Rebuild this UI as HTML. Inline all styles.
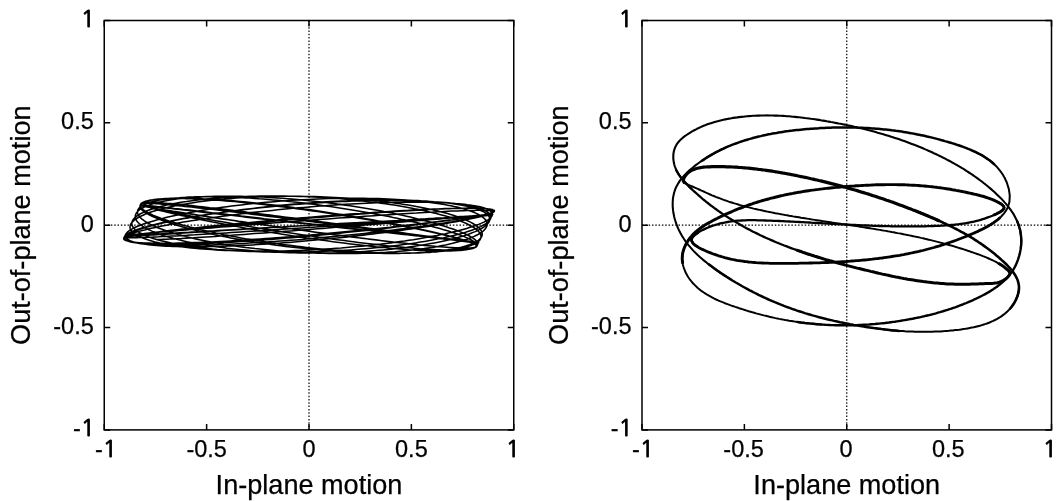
<!DOCTYPE html>
<html><head><meta charset="utf-8"><style>
html,body{margin:0;padding:0;background:#fff;width:1059px;height:501px;overflow:hidden}
svg{display:block;font-family:"Liberation Sans",Arial,Helvetica,sans-serif;fill:#000}
text{stroke:#000;stroke-width:0.25px}
</style></head><body>
<svg width="1059" height="501" viewBox="0 0 1059 501"><rect width="100%" height="100%" fill="#fff"/><g><line x1="104.25" y1="225.2" x2="513.75" y2="225.2" stroke="#000" stroke-width="1.2" stroke-dasharray="1.5 1.82"/><line x1="309.0" y1="20.5" x2="309.0" y2="429.9" stroke="#000" stroke-width="1.2" stroke-dasharray="1.5 1.82"/><path d="M104.25 429.9v-6M104.25 20.5v6M104.25 429.9h6M513.75 429.9h-6" stroke="#000" stroke-width="1.5" fill="none"/><path d="M206.625 429.9v-6M206.625 20.5v6M104.25 327.54999999999995h6M513.75 327.54999999999995h-6" stroke="#000" stroke-width="1.5" fill="none"/><path d="M309.0 429.9v-6M309.0 20.5v6M104.25 225.2h6M513.75 225.2h-6" stroke="#000" stroke-width="1.5" fill="none"/><path d="M411.375 429.9v-6M411.375 20.5v6M104.25 122.85h6M513.75 122.85h-6" stroke="#000" stroke-width="1.5" fill="none"/><path d="M513.75 429.9v-6M513.75 20.5v6M104.25 20.5h6M513.75 20.5h-6" stroke="#000" stroke-width="1.5" fill="none"/><rect x="104.25" y="20.5" width="409.5" height="409.4" fill="none" stroke="#000" stroke-width="1.5"/><text x="95.05" y="436.4" text-anchor="end" font-size="23.5">-<tspan style="font-family:NanumGothic,&quot;Liberation Sans&quot;,sans-serif;stroke-width:0.9px">1</tspan></text><text x="106.05" y="457.4" text-anchor="middle" font-size="23.5">-<tspan style="font-family:NanumGothic,&quot;Liberation Sans&quot;,sans-serif;stroke-width:0.9px">1</tspan></text><text x="93.75" y="334.04999999999995" text-anchor="end" font-size="23.5">-0.5</text><text x="206.625" y="457.4" text-anchor="middle" font-size="23.5">-0.5</text><text x="93.75" y="231.7" text-anchor="end" font-size="23.5">0</text><text x="309.0" y="457.4" text-anchor="middle" font-size="23.5">0</text><text x="93.75" y="129.35" text-anchor="end" font-size="23.5">0.5</text><text x="411.375" y="457.4" text-anchor="middle" font-size="23.5">0.5</text><text x="94.95" y="27.0" text-anchor="end" font-size="23.5"><tspan style="font-family:NanumGothic,&quot;Liberation Sans&quot;,sans-serif;stroke-width:0.9px">1</tspan></text><text x="512.85" y="457.4" text-anchor="middle" font-size="23.5"><tspan style="font-family:NanumGothic,&quot;Liberation Sans&quot;,sans-serif;stroke-width:0.9px">1</tspan></text><text x="309.0" y="493.6" text-anchor="middle" font-size="27.1">In-plane motion</text><text transform="translate(29.75 225.2) rotate(-90)" x="0" y="0" text-anchor="middle" font-size="27.1">Out-of-plane motion</text></g><g><line x1="642.0" y1="225.2" x2="1051.5" y2="225.2" stroke="#000" stroke-width="1.2" stroke-dasharray="1.5 1.82"/><line x1="846.75" y1="20.5" x2="846.75" y2="429.9" stroke="#000" stroke-width="1.2" stroke-dasharray="1.5 1.82"/><path d="M642.0 429.9v-6M642.0 20.5v6M642.0 429.9h6M1051.5 429.9h-6" stroke="#000" stroke-width="1.5" fill="none"/><path d="M744.375 429.9v-6M744.375 20.5v6M642.0 327.54999999999995h6M1051.5 327.54999999999995h-6" stroke="#000" stroke-width="1.5" fill="none"/><path d="M846.75 429.9v-6M846.75 20.5v6M642.0 225.2h6M1051.5 225.2h-6" stroke="#000" stroke-width="1.5" fill="none"/><path d="M949.125 429.9v-6M949.125 20.5v6M642.0 122.85h6M1051.5 122.85h-6" stroke="#000" stroke-width="1.5" fill="none"/><path d="M1051.5 429.9v-6M1051.5 20.5v6M642.0 20.5h6M1051.5 20.5h-6" stroke="#000" stroke-width="1.5" fill="none"/><rect x="642.0" y="20.5" width="409.5" height="409.4" fill="none" stroke="#000" stroke-width="1.5"/><text x="632.8" y="436.4" text-anchor="end" font-size="23.5">-<tspan style="font-family:NanumGothic,&quot;Liberation Sans&quot;,sans-serif;stroke-width:0.9px">1</tspan></text><text x="643.0" y="457.4" text-anchor="middle" font-size="23.5">-<tspan style="font-family:NanumGothic,&quot;Liberation Sans&quot;,sans-serif;stroke-width:0.9px">1</tspan></text><text x="631.5" y="334.04999999999995" text-anchor="end" font-size="23.5">-0.5</text><text x="743.575" y="457.4" text-anchor="middle" font-size="23.5">-0.5</text><text x="631.5" y="231.7" text-anchor="end" font-size="23.5">0</text><text x="845.95" y="457.4" text-anchor="middle" font-size="23.5">0</text><text x="631.5" y="129.35" text-anchor="end" font-size="23.5">0.5</text><text x="948.325" y="457.4" text-anchor="middle" font-size="23.5">0.5</text><text x="632.7" y="27.0" text-anchor="end" font-size="23.5"><tspan style="font-family:NanumGothic,&quot;Liberation Sans&quot;,sans-serif;stroke-width:0.9px">1</tspan></text><text x="1049.8" y="457.4" text-anchor="middle" font-size="23.5"><tspan style="font-family:NanumGothic,&quot;Liberation Sans&quot;,sans-serif;stroke-width:0.9px">1</tspan></text><text x="846.75" y="493.6" text-anchor="middle" font-size="27.1">In-plane motion</text><text transform="translate(567.5 225.2) rotate(-90)" x="0" y="0" text-anchor="middle" font-size="27.1">Out-of-plane motion</text></g><path d="M494.1 211.7L493.9 211.9L493.6 212.1L493.1 212.4L492.5 212.6L491.7 212.9L490.8 213.1L489.7 213.4L488.4 213.7L487.1 214.0L485.5 214.4L483.8 214.7L482.0 215.0L480.1 215.4L477.9 215.8L475.7 216.2L473.3 216.6L470.8 217.0L468.1 217.4L465.3 217.9L462.4 218.3L459.4 218.8L456.2 219.2L452.9 219.7L449.5 220.2L445.9 220.7L442.3 221.2L438.5 221.7L434.7 222.2L430.7 222.8L426.6 223.3L422.4 223.8L418.2 224.4L413.8 224.9L409.4 225.5L404.8 226.0L400.2 226.6L395.5 227.1L390.8 227.7L386.0 228.2L381.1 228.8L376.1 229.3L371.1 229.9L366.1 230.5L361.0 231.0L355.8 231.6L350.6 232.1L345.4 232.6L340.1 233.2L334.9 233.7L329.6 234.2L324.2 234.8L318.9 235.3L313.6 235.8L308.2 236.3L302.9 236.7L297.5 237.2L292.2 237.7L286.9 238.1L281.6 238.6L276.3 239.0L271.1 239.4L265.9 239.8L260.7 240.2L255.5 240.6L250.5 240.9L245.4 241.3L240.4 241.6L235.5 241.9L230.6 242.2L225.8 242.5L221.1 242.8L216.4 243.0L211.8 243.2L207.3 243.4L202.9 243.6L198.5 243.8L194.3 243.9L190.2 244.1L186.1 244.2L182.2 244.3L178.3 244.3L174.6 244.4L171.0 244.4L167.5 244.4L164.1 244.4L160.9 244.4L157.7 244.3L154.7 244.2L151.8 244.1L149.1 244.0L146.5 243.8L144.0 243.7L141.6 243.5L139.4 243.2L137.4 243.0L135.5 242.8L133.7 242.5L132.1 242.2L130.6 241.9L129.3 241.5L128.1 241.1L127.0 240.8L126.2 240.4L125.4 239.9L124.9 239.5L124.5 239.0L124.2 238.6L124.1 238.1L124.1 237.6L124.3 237.0L124.7 236.5L125.2 235.9L125.9 235.3L126.7 234.8L127.6 234.1L128.8 233.5L130.0 232.9L131.4 232.3L133.0 231.6L134.7 230.9L136.6 230.2L138.6 229.6L140.7 228.9L143.0 228.2L145.4 227.4L148.0 226.7L150.6 226.0L153.5 225.3L156.4 224.5L159.5 223.8L162.7 223.1L166.0 222.3L169.4 221.6L173.0 220.8L176.7 220.1L180.4 219.3L184.3 218.6L188.3 217.9L192.4 217.1L196.6 216.4L200.8 215.7L205.2 215.0L209.6 214.3L214.2 213.6L218.8 212.9L223.4 212.2L228.2 211.5L233.0 210.9L237.9 210.2L242.8 209.6L247.8 209.0L252.8 208.4L257.9 207.8L263.0 207.2L268.2 206.6L273.4 206.1L278.6 205.6L283.8 205.1L289.1 204.6L294.3 204.1L299.6 203.7L304.9 203.3L310.2 202.9L315.5 202.5L320.8 202.2L326.0 201.8L331.3 201.5L336.5 201.3L341.7 201.0L346.9 200.8L352.0 200.6L357.1 200.4L362.2 200.3L367.2 200.2L372.1 200.1L377.0 200.0L381.9 200.0L386.6 199.9L391.4 200.0L396.0 200.0L400.6 200.1L405.1 200.2L409.5 200.3L413.8 200.5L418.0 200.6L422.2 200.9L426.2 201.1L430.1 201.4L434.0 201.7L437.7 202.0L441.3 202.3L444.8 202.7L448.2 203.1L451.5 203.5L454.7 204.0L457.7 204.5L460.6 205.0L463.4 205.5L466.1 206.0L468.6 206.6L471.0 207.2L473.2 207.8L475.3 208.4L477.3 209.1L479.1 209.8L480.8 210.5L482.4 211.2L483.8 211.9L485.0 212.7L486.1 213.4L487.1 214.2L487.9 215.0L488.6 215.8L489.1 216.6L489.5 217.5L489.7 218.3L489.8 219.2L489.7 220.0L489.4 220.9L489.1 221.8L488.5 222.7L487.8 223.5L487.0 224.4L486.0 225.3L484.9 226.2L483.7 227.1L482.3 228.0L480.7 228.9L479.0 229.8L477.2 230.7L475.2 231.6L473.1 232.4L470.9 233.3L468.5 234.2L466.0 235.0L463.4 235.9L460.6 236.7L457.8 237.6L454.8 238.4L451.7 239.2L448.4 240.0L445.1 240.7L441.6 241.5L438.1 242.2L434.4 242.9L430.7 243.6L426.8 244.3L422.9 245.0L418.8 245.6L414.7 246.2L410.5 246.8L406.2 247.4L401.8 248.0L397.4 248.5L392.9 249.0L388.3 249.4L383.6 249.9L379.0 250.3L374.2 250.7L369.4 251.1L364.6 251.4L359.7 251.7L354.8 252.0L349.8 252.2L344.8 252.4L339.8 252.6L334.8 252.7L329.7 252.9L324.7 253.0L319.6 253.0L314.5 253.0L309.4 253.0L304.4 253.0L299.3 252.9L294.3 252.8L289.2 252.7L284.2 252.5L279.2 252.3L274.3 252.1L269.3 251.8L264.4 251.6L259.6 251.2L254.8 250.9L250.0 250.5L245.3 250.1L240.7 249.7L236.1 249.2L231.5 248.7L227.1 248.2L222.7 247.6L218.4 247.1L214.1 246.5L210.0 245.9L205.9 245.2L201.9 244.5L198.0 243.9L194.2 243.1L190.5 242.4L186.9 241.7L183.4 240.9L180.0 240.1L176.7 239.3L173.6 238.5L170.5 237.6L167.6 236.8L164.7 235.9L162.0 235.0L159.4 234.1L156.9 233.2L154.6 232.3L152.4 231.4L150.3 230.4L148.4 229.5L146.5 228.6L144.8 227.6L143.3 226.7L141.9 225.7L140.6 224.7L139.4 223.8L138.4 222.8L137.6 221.9L136.8 220.9L136.2 220.0L135.8 219.1L135.5 218.1L135.3 217.2L135.3 216.3L135.4 215.4L135.7 214.5L136.1 213.6L136.6 212.7L137.3 211.9L138.1 211.0L139.0 210.2L140.1 209.4L141.3 208.6L142.7 207.8L144.2 207.0L145.8 206.3L147.6 205.6L149.4 204.9L151.4 204.2L153.6 203.6L155.8 202.9L158.2 202.3L160.7 201.8L163.3 201.2L166.1 200.7L168.9 200.2L171.9 199.7L174.9 199.3L178.1 198.8L181.4 198.5L184.7 198.1L188.2 197.8L191.8 197.5L195.4 197.2L199.2 197.0L203.0 196.8L206.9 196.6L210.9 196.4L215.0 196.3L219.1 196.2L223.3 196.2L227.6 196.2L231.9 196.2L236.3 196.2L240.8 196.3L245.3 196.4L249.9 196.5L254.5 196.7L259.1 196.9L263.8 197.1L268.5 197.4L273.2 197.7L278.0 198.0L282.8 198.3L287.6 198.7L292.4 199.1L297.2 199.5L302.1 200.0L306.9 200.4L311.7 200.9L316.6 201.5L321.4 202.0L326.2 202.6L331.0 203.2L335.8 203.8L340.5 204.5L345.3 205.2L350.0 205.8L354.6 206.5L359.2 207.3L363.8 208.0L368.3 208.8L372.8 209.5L377.2 210.3L381.6 211.1L385.9 212.0L390.1 212.8L394.3 213.6L398.4 214.5L402.5 215.3L406.4 216.2L410.3 217.1L414.1 218.0L417.8 218.9L421.4 219.8L424.9 220.7L428.4 221.6L431.7 222.5L434.9 223.4L438.1 224.3L441.1 225.2L444.0 226.1L446.8 227.0L449.5 227.9L452.1 228.7L454.6 229.6L456.9 230.5L459.2 231.4L461.3 232.2L463.3 233.1L465.2 233.9L466.9 234.7L468.5 235.5L470.0 236.3L471.4 237.1L472.6 237.9L473.7 238.6L474.7 239.4L475.5 240.1L476.2 240.8L476.8 241.5L477.2 242.2L477.5 242.8L477.7 243.4L477.7 244.0L477.6 244.6L477.3 245.2L477.0 245.7L476.5 246.2L475.8 246.7L475.0 247.2L474.1 247.6L473.1 248.0L471.9 248.4L470.6 248.8L469.2 249.1L467.6 249.4L466.0 249.7L464.2 250.0L462.2 250.2L460.2 250.4L458.0 250.6L455.7 250.7L453.3 250.8L450.8 250.9L448.1 251.0L445.4 251.0L442.6 251.1L439.6 251.0L436.5 251.0L433.4 250.9L430.1 250.8L426.7 250.7L423.3 250.5L419.7 250.4L416.1 250.2L412.4 249.9L408.6 249.7L404.7 249.4L400.8 249.1L396.7 248.8L392.6 248.4L388.5 248.0L384.3 247.6L380.0 247.2L375.6 246.8L371.2 246.3L366.8 245.8L362.3 245.3L357.8 244.8L353.2 244.3L348.6 243.7L344.0 243.1L339.3 242.5L334.6 241.9L329.9 241.3L325.2 240.6L320.5 240.0L315.7 239.3L311.0 238.6L306.2 237.9L301.5 237.2L296.7 236.5L292.0 235.8L287.3 235.1L282.6 234.3L277.9 233.6L273.2 232.8L268.6 232.0L264.0 231.3L259.5 230.5L254.9 229.7L250.5 228.9L246.0 228.2L241.7 227.4L237.3 226.6L233.1 225.8L228.9 225.1L224.7 224.3L220.7 223.5L216.7 222.7L212.7 222.0L208.9 221.2L205.1 220.5L201.4 219.7L197.8 219.0L194.3 218.3L190.9 217.5L187.6 216.8L184.3 216.1L181.2 215.4L178.2 214.8L175.2 214.1L172.4 213.5L169.7 212.8L167.1 212.2L164.6 211.6L162.3 211.0L160.0 210.4L157.9 209.9L155.9 209.3L154.0 208.8L152.2 208.3L150.6 207.8L149.1 207.3L147.7 206.9L146.5 206.5L145.3 206.1L144.3 205.7L143.5 205.3L142.8 204.9L142.2 204.6L141.7 204.3L141.4 204.0L141.2 203.8L141.1 203.5L141.2 203.3L141.4 203.1L141.8 202.9L142.3 202.8L142.9 202.6L143.6 202.5L144.5 202.5L145.5 202.4L146.7 202.4L147.9 202.3L149.3 202.3L150.9 202.4L152.5 202.4L154.3 202.5L156.2 202.6L158.3 202.7L160.4 202.8L162.7 203.0L165.1 203.2L167.6 203.4L170.2 203.6L173.0 203.8L175.8 204.1L178.8 204.3L181.8 204.6L185.0 205.0L188.3 205.3L191.6 205.6L195.1 206.0L198.6 206.4L202.2 206.8L206.0 207.2L209.8 207.7L213.7 208.1L217.6 208.6L221.7 209.0L225.8 209.5L230.0 210.0L234.2 210.6L238.5 211.1L242.9 211.6L247.3 212.2L251.7 212.7L256.2 213.3L260.8 213.9L265.4 214.5L270.0 215.1L274.7 215.7L279.4 216.3L284.1 216.9L288.8 217.5L293.6 218.1L298.3 218.7L303.1 219.4L307.9 220.0L312.7 220.6L317.5 221.3L322.2 221.9L327.0 222.6L331.8 223.2L336.5 223.8L341.2 224.5L345.9 225.1L350.6 225.7L355.2 226.3L359.8 227.0L364.3 227.6L368.8 228.2L373.3 228.8L377.7 229.4L382.1 230.0L386.4 230.6L390.6 231.1L394.8 231.7L398.9 232.3L402.9 232.8L406.9 233.4L410.7 233.9L414.5 234.4L418.3 234.9L421.9 235.4L425.4 235.9L428.9 236.3L432.2 236.8L435.5 237.2L438.6 237.7L441.6 238.1L444.6 238.5L447.4 238.9L450.1 239.2L452.7 239.6L455.2 239.9L457.6 240.2L459.8 240.5L462.0 240.8L464.0 241.1L465.8 241.4L467.6 241.6L469.2 241.8L470.7 242.0L472.1 242.2L473.3 242.4L474.4 242.5L475.4 242.7L476.2 242.8L476.9 242.9L477.5 242.9L477.9 243.0L478.2 243.1L478.4 243.1L478.4 243.1L478.3 243.1L478.0 243.1L477.6 243.0L477.1 243.0L476.4 242.9L475.6 242.8L474.7 242.7L473.6 242.5L472.4 242.4L471.1 242.2L469.6 242.1L468.0 241.9L466.3 241.7L464.4 241.4L462.4 241.2L460.3 241.0L458.1 240.7L455.8 240.4L453.3 240.1L450.7 239.8L448.0 239.5L445.2 239.2L442.3 238.8L439.2 238.5L436.1 238.1L432.8 237.7L429.5 237.3L426.0 236.9L422.5 236.5L418.9 236.1L415.1 235.7L411.3 235.3L407.4 234.8L403.5 234.4L399.4 233.9L395.3 233.5L391.1 233.0L386.8 232.5L382.5 232.0L378.1 231.6L373.6 231.1L369.1 230.6L364.5 230.2L359.9 229.7L355.3 229.2L350.6 228.7L345.9 228.2L341.1 227.7L336.4 227.2L331.6 226.7L326.8 226.2L322.0 225.6L317.1 225.1L312.3 224.6L307.5 224.1L302.6 223.5L297.8 223.0L293.0 222.5L288.2 221.9L283.4 221.4L278.6 220.8L273.9 220.3L269.2 219.8L264.5 219.2L259.9 218.7L255.3 218.2L250.7 217.7L246.2 217.2L241.8 216.6L237.4 216.1L233.1 215.6L228.8 215.1L224.6 214.7L220.4 214.2L216.4 213.7L212.4 213.2L208.5 212.8L204.6 212.4L200.9 211.9L197.2 211.5L193.7 211.1L190.2 210.7L186.8 210.3L183.6 209.9L180.4 209.5L177.3 209.2L174.4 208.9L171.5 208.5L168.8 208.2L166.2 207.9L163.7 207.6L161.3 207.4L159.0 207.1L156.9 206.9L154.8 206.7L152.9 206.5L151.2 206.3L149.5 206.1L148.0 206.0L146.6 205.8L145.4 205.7L144.2 205.6L143.3 205.5L142.4 205.5L141.7 205.4L141.1 205.4L140.7 205.4L140.3 205.4L140.2 205.4L140.1 205.5L140.2 205.5L140.5 205.6L140.8 205.7L141.3 205.9L142.0 206.0L142.8 206.2L143.7 206.3L144.7 206.5L145.9 206.8L147.2 207.0L148.6 207.2L150.2 207.5L151.9 207.8L153.7 208.1L155.7 208.4L157.7 208.8L159.9 209.1L162.2 209.5L164.6 209.9L167.2 210.3L169.9 210.7L172.6 211.2L175.5 211.6L178.5 212.1L181.6 212.6L184.8 213.1L188.1 213.6L191.5 214.1L194.9 214.6L198.5 215.2L202.2 215.7L205.9 216.3L209.8 216.9L213.7 217.5L217.7 218.1L221.7 218.7L225.8 219.3L230.0 219.9L234.3 220.5L238.6 221.2L243.0 221.8L247.4 222.5L251.9 223.1L256.4 223.8L261.0 224.4L265.6 225.1L270.2 225.7L274.9 226.4L279.6 227.1L284.3 227.7L289.0 228.4L293.8 229.1L298.5 229.7L303.3 230.4L308.1 231.1L312.8 231.7L317.6 232.4L322.4 233.0L327.1 233.7L331.8 234.3L336.6 234.9L341.3 235.5L345.9 236.2L350.6 236.8L355.2 237.3L359.7 237.9L364.2 238.5L368.7 239.1L373.1 239.6L377.5 240.1L381.8 240.7L386.1 241.2L390.3 241.7L394.4 242.2L398.5 242.6L402.5 243.1L406.4 243.5L410.2 243.9L414.0 244.3L417.7 244.7L421.2 245.1L424.7 245.4L428.1 245.7L431.4 246.0L434.6 246.3L437.7 246.6L440.7 246.8L443.6 247.1L446.4 247.3L449.1 247.4L451.7 247.6L454.1 247.7L456.4 247.9L458.6 248.0L460.7 248.0L462.7 248.1L464.5 248.1L466.3 248.1L467.9 248.1L469.3 248.0L470.7 248.0L471.9 247.9L472.9 247.8L473.9 247.6L474.7 247.5L475.4 247.3L475.9 247.1L476.3 246.9L476.6 246.6L476.8 246.3L476.8 246.0L476.6 245.7L476.4 245.4L476.0 245.0L475.4 244.6L474.8 244.2L474.0 243.8L473.1 243.4L472.0 242.9L470.8 242.4L469.5 241.9L468.0 241.4L466.5 240.9L464.8 240.3L462.9 239.7L461.0 239.2L458.9 238.6L456.7 237.9L454.4 237.3L452.0 236.6L449.4 236.0L446.8 235.3L444.0 234.6L441.1 233.9L438.1 233.2L435.1 232.5L431.9 231.7L428.6 231.0L425.2 230.2L421.7 229.5L418.2 228.7L414.5 227.9L410.8 227.2L407.0 226.4L403.1 225.6L399.1 224.8L395.0 224.0L390.9 223.2L386.7 222.4L382.5 221.6L378.2 220.9L373.8 220.1L369.4 219.3L365.0 218.5L360.5 217.7L355.9 216.9L351.3 216.2L346.7 215.4L342.1 214.6L337.4 213.9L332.7 213.2L328.0 212.4L323.3 211.7L318.5 211.0L313.8 210.3L309.0 209.6L304.2 209.0L299.5 208.3L294.7 207.7L290.0 207.0L285.3 206.4L280.6 205.8L275.9 205.3L271.2 204.7L266.6 204.2L262.0 203.7L257.4 203.2L252.9 202.7L248.5 202.2L244.0 201.8L239.7 201.4L235.3 201.0L231.1 200.6L226.9 200.3L222.8 200.0L218.7 199.7L214.7 199.4L210.8 199.2L206.9 198.9L203.2 198.8L199.5 198.6L195.9 198.5L192.4 198.3L189.0 198.3L185.7 198.2L182.5 198.2L179.4 198.2L176.4 198.2L173.5 198.2L170.7 198.3L168.0 198.4L165.4 198.5L162.9 198.7L160.6 198.9L158.4 199.1L156.3 199.3L154.3 199.6L152.4 199.9L150.7 200.2L149.1 200.5L147.6 200.9L146.3 201.3L145.0 201.7L144.0 202.2L143.0 202.6L142.2 203.1L141.5 203.6L140.9 204.2L140.5 204.7L140.2 205.3L140.1 205.9L140.0 206.5L140.2 207.2L140.4 207.8L140.8 208.5L141.3 209.2L142.0 209.9L142.8 210.7L143.7 211.4L144.8 212.2L146.0 213.0L147.3 213.7L148.7 214.5L150.3 215.4L152.0 216.2L153.9 217.0L155.8 217.9L157.9 218.7L160.1 219.6L162.4 220.5L164.9 221.3L167.4 222.2L170.1 223.1L172.9 224.0L175.8 224.9L178.8 225.8L181.9 226.7L185.1 227.6L188.5 228.4L191.9 229.3L195.4 230.2L199.0 231.1L202.7 232.0L206.5 232.8L210.3 233.7L214.3 234.5L218.3 235.4L222.4 236.2L226.6 237.1L230.8 237.9L235.1 238.7L239.5 239.5L243.9 240.2L248.4 241.0L252.9 241.7L257.5 242.4L262.1 243.2L266.7 243.8L271.4 244.5L276.1 245.2L280.9 245.8L285.7 246.4L290.5 247.0L295.3 247.6L300.1 248.1L305.0 248.6L309.8 249.1L314.7 249.6L319.5 250.0L324.3 250.5L329.2 250.8L334.0 251.2L338.8 251.6L343.6 251.9L348.3 252.1L353.0 252.4L357.7 252.6L362.4 252.8L367.0 253.0L371.6 253.1L376.1 253.2L380.5 253.3L385.0 253.4L389.3 253.4L393.6 253.4L397.8 253.4L402.0 253.3L406.1 253.2L410.1 253.1L414.0 252.9L417.8 252.7L421.6 252.5L425.3 252.3L428.9 252.0L432.3 251.7L435.7 251.3L439.0 251.0L442.2 250.6L445.3 250.2L448.3 249.7L451.1 249.3L453.9 248.8L456.5 248.3L459.0 247.7L461.4 247.2L463.7 246.6L465.8 246.0L467.8 245.3L469.7 244.7L471.5 244.0L473.1 243.3L474.6 242.6L476.0 241.8L477.3 241.1L478.4 240.3L479.3 239.5L480.2 238.7L480.8 237.9L481.4 237.1L481.8 236.2L482.1 235.3L482.2 234.5L482.2 233.6L482.1 232.7L481.8 231.8L481.3 230.9L480.8 230.0L480.1 229.1L479.2 228.1L478.2 227.2L477.1 226.3L475.9 225.4L474.5 224.4L472.9 223.5L471.3 222.6L469.5 221.6L467.5 220.7L465.5 219.8L463.3 218.9L461.0 218.0L458.5 217.1L456.0 216.2L453.3 215.3L450.5 214.4L447.6 213.6L444.5 212.7L441.4 211.9L438.1 211.1L434.8 210.3L431.3 209.5L427.7 208.7L424.1 207.9L420.3 207.2L416.4 206.5L412.5 205.8L408.4 205.1L404.3 204.4L400.1 203.8L395.9 203.2L391.5 202.6L387.1 202.0L382.6 201.4L378.1 200.9L373.4 200.4L368.8 200.0L364.1 199.5L359.3 199.1L354.5 198.7L349.6 198.3L344.8 198.0L339.8 197.7L334.9 197.4L329.9 197.2L324.9 197.0L319.9 196.8L314.9 196.6L309.9 196.5L304.9 196.4L299.8 196.3L294.8 196.3L289.8 196.3L284.8 196.3L279.8 196.3L274.8 196.4L269.9 196.5L265.0 196.7L260.1 196.8L255.2 197.0L250.4 197.2L245.7 197.5L240.9 197.8L236.3 198.1L231.7 198.4L227.1 198.8L222.7 199.2L218.2 199.6L213.9 200.1L209.6 200.5L205.5 201.0L201.3 201.5L197.3 202.1L193.4 202.7L189.6 203.2L185.8 203.9L182.2 204.5L178.6 205.1L175.2 205.8L171.9 206.5L168.6 207.2L165.5 208.0L162.5 208.7L159.7 209.5L156.9 210.2L154.3 211.0L151.8 211.8L149.4 212.6L147.2 213.5L145.0 214.3L143.1 215.2L141.2 216.0L139.5 216.9L137.9 217.8L136.5 218.6L135.2 219.5L134.0 220.4L133.0 221.3L132.2 222.2L131.4 223.1L130.9 224.0L130.4 224.9L130.2 225.8L130.0 226.7L130.0 227.5L130.2 228.4L130.5 229.3L131.0 230.2L131.6 231.0L132.3 231.9L133.2 232.7L134.2 233.6L135.4 234.4L136.8 235.2L138.2 236.0L139.8 236.8L141.6 237.6L143.5 238.3L145.5 239.1L147.7 239.8L150.0 240.5L152.4 241.2L155.0 241.9L157.6 242.5L160.5 243.2L163.4 243.8L166.5 244.4L169.6 244.9L172.9 245.5L176.3 246.0L179.9 246.5L183.5 247.0L187.2 247.4L191.1 247.9L195.0 248.3L199.0 248.7L203.2 249.0L207.4 249.3L211.7 249.6L216.1 249.9L220.5 250.2L225.1 250.4L229.7 250.6L234.4 250.7L239.1 250.9L243.9 251.0L248.8 251.1L253.7 251.1L258.7 251.1L263.7 251.1L268.7 251.1L273.8 251.1L278.9 251.0L284.0 250.9L289.2 250.7L294.4 250.6L299.6 250.4L304.8 250.2L310.0 249.9L315.2 249.7L320.4 249.4L325.6 249.0L330.8 248.7L336.0 248.3L341.2 248.0L346.3 247.5L351.4 247.1L356.5 246.6L361.5 246.2L366.5 245.7L371.4 245.1L376.3 244.6L381.2 244.1L386.0 243.5L390.7 242.9L395.4 242.3L400.0 241.6L404.5 241.0L408.9 240.3L413.3 239.7L417.6 239.0L421.8 238.3L425.8 237.6L429.9 236.8L433.8 236.1L437.6 235.4L441.3 234.6L444.8 233.9L448.3 233.1L451.7 232.3L454.9 231.5L458.1 230.8L461.1 230.0L463.9 229.2L466.7 228.4L469.3 227.6L471.8 226.8L474.2 226.0L476.4 225.2L478.5 224.4L480.4 223.6L482.2 222.9L483.9 222.1L485.4 221.3L486.8 220.5L488.0 219.8L489.1 219.0L490.0 218.3L490.8 217.5L491.4 216.8L491.9 216.1L492.2 215.4L492.4 214.7L492.4 214.0L492.3 213.4L492.0 212.7L491.5 212.1L491.0 211.5L490.2 210.8L489.3 210.3L488.3 209.7L487.1 209.1L485.8 208.6L484.3 208.1L482.7 207.6L480.9 207.1L479.0 206.6L476.9 206.2L474.7 205.8L472.4 205.4L469.9 205.0L467.3 204.7L464.6 204.3L461.7 204.0L458.7 203.7L455.6 203.5L452.3 203.2L449.0 203.0L445.5 202.8L441.9 202.6L438.2 202.5L434.4 202.4L430.5 202.2L426.5 202.2L422.3 202.1L418.1 202.1L413.8 202.1L409.4 202.1L405.0 202.1L400.4 202.2L395.8 202.3L391.1 202.4L386.3 202.5L381.5 202.7L376.5 202.8L371.6 203.0L366.6 203.2L361.5 203.5L356.4 203.7L351.3 204.0L346.1 204.3L340.9 204.6L335.6 205.0L330.4 205.3L325.1 205.7L319.8 206.1L314.5 206.5L309.2 206.9L303.8 207.4L298.5 207.8L293.2 208.3L287.9 208.8L282.7 209.3L277.4 209.8L272.2 210.4L267.0 210.9L261.8 211.5L256.7 212.0L251.6 212.6L246.6 213.2L241.6 213.8L236.7 214.4L231.8 215.0L227.0 215.7L222.2 216.3L217.6 216.9L213.0 217.6L208.5 218.2L204.0 218.9L199.7 219.5L195.4 220.2L191.3 220.8L187.2 221.5L183.2 222.1L179.4 222.8L175.6 223.5L172.0 224.1L168.5 224.8L165.0 225.4L161.7 226.1L158.6 226.7L155.5 227.4L152.6 228.0L149.8 228.6L147.1 229.2L144.6 229.9L142.2 230.5L140.0 231.1L137.9 231.6L135.9 232.2L134.1 232.8L132.4 233.4L130.8 233.9L129.5 234.4L128.2 235.0L127.1 235.5L126.2 236.0L125.4 236.5L124.8 236.9L124.3 237.4L123.9 237.8L123.8 238.3L123.7 238.7L123.9 239.1L124.1 239.5L124.6 239.8L125.2 240.2L125.9 240.5L126.8 240.8L127.8 241.1L129.0 241.4L130.4 241.6L131.9 241.9L133.5 242.1L135.3 242.3L137.2 242.5L139.3 242.7L141.5 242.8L143.9 242.9L146.3 243.0L149.0 243.1L151.7 243.2L154.6 243.3L157.6 243.3L160.7 243.3L164.0 243.3L167.4 243.3L170.9 243.3L174.5 243.2L178.2 243.1L182.0 243.0L186.0 242.9L190.0 242.8L194.2 242.6L198.4 242.5L202.7 242.3L207.1 242.1L211.6 241.9L216.2 241.7L220.8 241.4L225.6 241.2L230.4 240.9L235.2 240.6L240.1 240.3L245.1 240.0L250.2 239.6L255.2 239.3L260.4 238.9L265.5 238.6L270.7 238.2L276.0 237.8L281.2 237.4L286.5 237.0L291.8 236.5L297.1 236.1L302.4 235.6L307.8 235.2L313.1 234.7L318.4 234.3L323.7 233.8L329.0 233.3L334.3 232.8L339.6 232.3L344.8 231.8L350.0 231.3L355.2 230.8L360.4 230.3L365.5 229.8L370.5 229.3L375.5 228.7L380.5 228.2L385.3 227.7L390.2 227.2L394.9 226.6L399.6 226.1L404.2 225.6L408.7 225.1L413.2 224.6L417.5 224.1L421.8 223.6L426.0 223.0L430.1 222.5L434.0 222.0L437.9 221.6L441.7 221.1L445.3 220.6L448.9 220.1L452.3 219.7L455.6 219.2L458.8 218.7L461.9 218.3L464.8 217.9L467.6 217.4L470.3 217.0L472.8 216.6L475.3 216.2L477.5 215.8L479.7 215.5L481.7 215.1L483.5 214.8L485.2 214.4L486.8 214.1L488.2 213.8L489.4 213.5L490.6 213.2L491.5 212.9L492.3 212.6L493.0 212.4L493.5 212.2L493.9 211.9L494.1 211.7L494.1 211.5L494.0 211.3L493.8 211.2L493.4 211.0L492.8 210.9L492.1 210.8L491.2 210.7L490.2 210.6L489.1 210.5L487.8 210.4L486.3 210.4L484.7 210.3L483.0 210.3L481.1 210.3L479.0 210.3L476.9 210.3L474.6 210.4L472.1 210.4L469.5 210.5L466.8 210.6L464.0 210.7L461.0 210.8L457.9 210.9L454.7 211.0L451.4 211.1L447.9 211.3L444.3 211.5L440.7 211.7L436.9 211.8L433.0 212.1L429.0 212.3L424.9 212.5L420.7 212.7L416.4 213.0L412.1 213.2L407.6 213.5L403.1 213.8L398.5 214.1L393.8 214.4L389.0 214.7L384.2 215.0L379.3 215.3L374.4 215.7L369.4 216.0L364.4 216.3L359.3 216.7L354.2 217.0L349.0 217.4L343.8 217.8L338.6 218.1L333.3 218.5L328.1 218.9L322.8 219.3L317.5 219.7L312.2 220.1L306.9 220.5L301.6 220.9L296.3 221.2L291.1 221.6L285.8 222.0L280.6 222.4L275.3 222.8L270.1 223.2L265.0 223.6L259.9 224.0L254.8 224.4L249.8 224.8L244.8 225.2L239.8 225.6L235.0 226.0L230.2 226.4L225.4 226.8L220.7 227.1L216.1 227.5L211.6 227.9L207.2 228.2L202.8 228.6L198.5 228.9L194.3 229.3L190.3 229.6L186.3 229.9L182.4 230.3L178.6 230.6L174.9 230.9L171.4 231.2L167.9 231.5L164.6 231.8L161.4 232.0L158.3 232.3L155.3 232.6L152.5 232.8L149.8 233.0L147.2 233.3L144.8 233.5L142.4 233.7L140.3 233.9L138.2 234.1L136.4 234.3L134.6 234.4L133.0 234.6L131.5 234.7L130.2 234.9L129.1 235.0L128.0 235.1L127.2 235.2L126.4 235.3L125.9 235.4L125.5 235.5L125.2 235.5L125.1 235.6L125.1 235.6L125.3 235.6L125.6 235.7L126.1 235.7L126.7 235.7L127.5 235.6L128.5 235.6L129.6 235.6L130.8 235.5L132.2 235.5L133.7 235.4L135.4 235.3L137.2 235.2L139.1 235.1L141.2 235.0L143.4 234.9L145.8 234.8L148.3 234.6L150.9 234.5L153.7 234.3L156.6 234.2L159.6 234.0L162.7 233.8L166.0 233.6L169.3 233.4L172.8 233.2L176.4 233.0L180.1 232.8L183.9 232.6L187.8 232.4L191.8 232.1L195.9 231.9L200.1 231.6L204.4 231.4L208.8 231.1L213.2 230.9L217.8 230.6L222.4 230.3L227.0 230.1L231.8 229.8L236.6 229.5L241.5 229.2L246.4 228.9L251.3 228.7L256.4 228.4L261.4 228.1L266.5 227.8L271.6 227.5L276.8 227.2L282.0 226.9L287.2 226.6L292.4 226.3L297.6 226.0L302.9 225.7L308.1 225.4L313.4 225.1L318.6 224.8L323.8 224.6L329.1 224.3L334.3 224.0L339.5 223.7L344.6 223.4L349.7 223.2L354.8 222.9L359.9 222.6L364.9 222.4L369.9 222.1L374.8 221.8L379.6 221.6L384.4 221.3L389.2 221.1L393.8 220.9L398.4 220.6L402.9 220.4L407.4 220.2L411.8 220.0L416.0 219.8L420.2 219.6L424.4 219.3L428.4 219.1L432.3 218.9L436.1 218.7L439.9 218.5L443.5 218.2L447.0 218.0L450.4 217.8L453.7 217.6L456.8 217.5L459.9 217.3L462.8 217.1L465.6 216.9L468.2 216.8L470.8 216.6L473.2 216.5L475.4 216.3L477.6 216.2L479.6 216.1L481.4 216.0L483.1 215.9L484.7 215.8L486.1 215.7L487.4 215.6L488.5 215.5L489.5 215.4L490.4 215.4L491.1 215.3L491.6 215.3L492.0 215.3L492.2 215.3L492.3 215.3L492.2 215.3L492.0 215.3L491.7 215.3L491.2 215.3L490.5 215.4L489.7 215.4L488.7 215.5L487.6 215.5L486.4 215.6L485.0 215.7L483.4 215.8L481.7 215.9L479.9 216.0L477.9 216.1L475.8 216.3L473.6 216.4L471.2 216.6L468.7 216.8L466.0 216.9L463.2 217.1L460.3 217.3L457.3 217.5L454.1 217.7L450.9 217.9L447.5 218.1L444.0 218.4L440.4 218.6L436.6 218.9L432.8 219.1L428.9 219.4L424.8 219.7L420.7 219.9L416.5 220.2L412.2 220.5L407.8 220.8L403.3 221.1L398.8 221.4L394.1 221.7L389.4 222.0L384.7 222.4L379.8 222.7L374.9 223.0L370.0 223.4L365.0 223.7L360.0 224.0L354.9 224.4L349.7 224.7L344.6 225.1L339.4 225.4L334.2 225.8L329.0 226.1L323.7 226.5L318.4 226.8L313.2 227.2L307.9 227.6L302.6 227.9L297.3 228.3L292.1 228.6L286.8 229.0L281.6 229.3L276.4 229.6L271.2 230.0L266.0 230.3L260.9 230.7L255.8 231.0L250.8 231.3L245.8 231.6L240.9 232.0L236.0 232.3L231.1 232.6L226.4 232.9L221.7 233.2L217.1 233.5L212.5 233.7L208.0 234.0L203.6 234.3L199.3 234.5L195.1 234.8L191.0 235.0L187.0 235.3L183.1 235.5L179.2 235.7L175.5 235.9L171.9 236.1L168.4 236.3L165.1 236.5L161.8 236.6L158.7 236.8L155.6 236.9L152.8 237.1L150.0 237.2L147.4 237.3L144.9 237.4L142.5 237.5L140.3 237.5L138.2 237.6L136.3 237.6L134.4 237.7L132.8 237.7L131.3 237.7L129.9 237.7L128.7 237.7L127.6 237.7L126.7 237.6L125.9 237.6L125.3 237.5L124.8 237.4L124.5 237.3L124.3 237.2L124.3 237.1L124.4 237.0L124.7 236.8L125.2 236.7L125.8 236.5L126.5 236.3L127.4 236.1L128.4 235.9L129.6 235.7L131.0 235.5L132.4 235.2L134.1 235.0L135.8 234.7L137.8 234.4L139.8 234.2L142.0 233.9L144.4 233.5L146.8 233.2L149.4 232.9L152.2 232.6L155.1 232.2L158.0 231.9L161.2 231.5L164.4 231.1L167.8 230.7L171.3 230.3L174.8 229.9L178.6 229.5L182.4 229.1L186.3 228.7L190.3 228.3L194.4 227.9L198.6 227.4L202.9 227.0L207.3 226.5L211.8 226.1L216.4 225.6L221.0 225.2L225.7 224.7L230.5 224.3L235.3 223.8L240.2 223.3L245.2 222.9L250.2 222.4L255.2 221.9L260.4 221.5L265.5 221.0L270.7 220.6L275.9 220.1L281.1 219.6L286.4 219.2L291.7 218.7L297.0 218.3L302.3 217.8L307.6 217.4L312.9 217.0L318.3 216.5L323.6 216.1L328.9 215.7L334.1 215.3L339.4 214.9L344.6 214.5L349.8 214.1L355.0 213.7L360.2 213.4L365.2 213.0L370.3 212.7L375.3 212.3L380.2 212.0L385.1 211.7L389.9 211.4L394.7 211.1L399.4 210.8L404.0 210.5L408.5 210.3L413.0 210.0L417.3 209.8L421.6 209.6L425.8 209.4L429.9 209.2L433.9 209.0L437.8 208.9L441.5 208.7L445.2 208.6L448.8 208.5L452.2 208.4L455.5 208.3L458.7 208.2L461.8 208.2L464.8 208.2L467.6 208.1L470.3 208.1L472.8 208.2L475.3 208.2L477.6 208.2L479.7 208.3L481.7 208.4L483.6 208.5L485.3 208.6L486.9 208.7L488.3 208.9L489.6 209.0L490.7 209.2L491.7 209.4L492.5 209.6L493.2 209.9L493.7 210.1L494.1 210.4L494.3 210.7L494.4 211.0L494.3 211.3L494.1 211.6L493.7 211.9L493.1 212.3L492.4 212.6L491.6 213.0L490.6 213.4L489.4 213.8L488.1 214.2L486.7 214.7L485.1 215.1L483.4 215.6L481.5 216.0L479.4 216.5L477.3 217.0L475.0 217.5L472.5 218.0L469.9 218.5L467.2 219.0L464.4 219.6L461.4 220.1L458.3 220.7L455.1 221.2L451.8 221.8L448.3 222.3L444.7 222.9L441.0 223.5L437.2 224.1L433.3 224.6L429.3 225.2L425.2 225.8L421.0 226.4L416.7 227.0L412.3 227.6L407.9 228.2L403.3 228.7L398.7 229.3L394.0 229.9L389.2 230.5L384.4 231.1L379.5 231.7L374.5 232.2L369.5 232.8L364.4 233.4L359.3 233.9L354.2 234.5L349.0 235.0L343.8 235.5L338.5 236.0L333.3 236.6L328.0 237.1L322.7 237.6L317.3 238.0L312.0 238.5L306.7 239.0L301.4 239.4L296.0 239.9L290.7 240.3L285.4 240.7L280.2 241.1L274.9 241.5L269.7 241.8L264.5 242.2L259.4 242.5L254.3 242.8L249.2 243.1L244.2 243.4L239.2 243.7L234.3 243.9L229.5 244.2L224.7 244.4L220.0 244.6L215.4 244.7L210.8 244.9L206.4 245.0L202.0 245.1L197.7 245.2L193.5 245.3L189.4 245.4L185.4 245.4L181.5 245.4L177.7 245.4L174.0 245.4L170.4 245.3L167.0 245.3L163.6 245.2L160.4 245.1L157.3 244.9L154.3 244.8L151.5 244.6L148.8 244.4L146.2 244.2L143.7 244.0L141.4 243.7L139.3 243.4L137.2 243.1L135.4 242.8L133.6 242.5L132.0 242.1L130.6 241.8L129.3 241.4L128.1 241.0L127.1 240.5L126.3 240.1L125.6 239.6L125.0 239.1L124.6 238.7L124.4 238.1L124.3 237.6L124.4 237.1L124.6 236.5L125.0 236.0L125.5 235.4L126.2 234.8L127.0 234.2L128.0 233.6L129.1 232.9L130.4 232.3L131.8 231.6L133.4 231.0L135.1 230.3L136.9 229.6L138.9 229.0L141.1 228.3L143.3 227.6L145.8 226.9L148.3 226.2L151.0 225.5L153.8 224.7L156.8 224.0L159.8 223.3L163.0 222.6L166.3 221.9L169.8 221.2L173.3 220.4L177.0 219.7L180.7 219.0L184.6 218.3L188.6 217.6L192.6 216.9L196.8 216.2L201.0 215.5L205.4 214.8L209.8 214.2L214.3 213.5L218.9 212.9L223.6 212.2L228.3 211.6L233.1 211.0L238.0 210.3L242.9 209.7L247.8 209.2L252.9 208.6L257.9 208.0L263.0 207.5L268.2 207.0L273.4 206.5L278.6 206.0L283.8 205.5L289.0 205.0L294.3 204.6L299.6 204.2L304.8 203.8L310.1 203.4L315.4 203.0L320.7 202.7L325.9 202.4L331.2 202.1L336.4 201.8L341.6 201.6L346.8 201.4L351.9 201.1L357.0 201.0L362.1 200.8L367.1 200.7L372.0 200.6L376.9 200.5L381.8 200.4L386.6 200.4L391.3 200.4L396.0 200.4L400.5 200.4L405.0 200.5L409.5 200.6L413.8 200.7L418.1 200.8L422.2 201.0L426.3 201.2L430.3 201.4L434.1 201.7L437.9 201.9L441.5 202.2L445.1 202.5L448.5 202.8L451.8 203.2L455.0 203.6L458.1 204.0L461.0 204.4L463.8 204.9L466.5 205.3L469.1 205.8L471.5 206.3L473.8 206.9L475.9 207.4L477.9 208.0L479.8 208.6L481.5 209.2L483.1 209.8L484.6 210.4L485.9 211.1L487.0 211.8L488.0 212.5L488.9 213.2L489.6 213.9L490.1 214.6L490.5 215.4L490.8 216.1L490.9 216.9L490.9 217.6L490.7 218.4L490.3 219.2L489.8 220.0L489.2 220.8L488.4 221.6L487.5 222.5L486.4 223.3L485.1 224.1L483.8 224.9L482.2 225.8L480.6 226.6L478.8 227.4L476.8 228.3L474.7 229.1L472.5 229.9L470.2 230.7L467.7 231.6L465.1 232.4L462.3 233.2L459.5 234.0L456.5 234.8L453.4 235.6L450.1 236.3L446.8 237.1L443.4 237.9L439.8 238.6L436.1 239.3L432.3 240.0L428.5 240.7L424.5 241.4L420.4 242.1L416.3 242.8L412.1 243.4L407.7 244.0L403.3 244.6L398.9 245.2L394.3 245.8L389.7 246.3L385.0 246.8L380.3 247.3L375.5 247.8L370.6 248.3L365.7 248.7L360.8 249.1L355.8 249.5L350.8 249.9L345.8 250.2L340.7 250.5L335.6 250.8L330.5 251.0L325.3 251.3L320.2 251.5L315.0 251.7L309.9 251.8L304.7 251.9L299.6 252.0L294.4 252.1L289.3 252.1L284.2 252.1L279.1 252.1L274.1 252.1L269.1 252.0L264.1 251.9L259.1 251.8L254.2 251.6L249.4 251.4L244.6 251.2L239.8 251.0L235.2 250.7L230.5 250.4L226.0 250.1L221.5 249.7L217.1 249.4L212.7 249.0L208.5 248.5L204.3 248.1L200.2 247.6L196.3 247.1L192.4 246.6L188.6 246.0L184.9 245.5L181.3 244.9L177.8 244.3L174.4 243.6L171.2 243.0L168.0 242.3L165.0 241.6L162.1 240.9L159.3 240.2L156.6 239.4L154.1 238.7L151.7 237.9L149.4 237.1L147.3 236.3L145.3 235.5L143.4 234.7L141.7 233.8L140.1 233.0L138.6 232.1L137.3 231.2L136.1 230.4L135.1 229.5L134.2 228.6L133.4 227.7L132.8 226.8L132.3 225.9L132.0 225.0L131.9 224.1L131.8 223.2L131.9 222.3L132.2 221.4L132.6 220.5L133.2 219.6L133.9 218.7L134.7 217.8L135.7 216.9L136.8 216.1L138.1 215.2L139.5 214.3L141.0 213.5L142.7 212.7L144.5 211.8L146.4 211.0L148.5 210.2L150.7 209.4L153.0 208.7L155.5 207.9L158.1 207.2L160.8 206.5L163.6 205.8L166.5 205.1L169.6 204.4L172.7 203.8L176.0 203.2L179.4 202.6L182.9 202.0L186.5 201.5L190.2 200.9L193.9 200.4L197.8 200.0L201.8 199.5L205.8 199.1L209.9 198.7L214.1 198.3L218.4 198.0L222.8 197.6L227.2 197.3L231.6 197.1L236.2 196.8L240.8 196.6L245.4 196.5L250.1 196.3L254.9 196.2L259.7 196.1L264.5 196.0L269.3 196.0L274.2 196.0L279.1 196.0L284.1 196.1L289.0 196.2L294.0 196.3L298.9 196.4L303.9 196.6L308.9 196.8L313.9 197.1L318.8 197.3L323.8 197.6L328.7 197.9L333.7 198.3L338.6 198.6L343.4 199.0L348.3 199.5L353.1 199.9L357.8 200.4L362.6 200.9L367.3 201.4L371.9 202.0L376.5 202.6L381.0 203.2L385.4 203.8L389.8 204.4L394.2 205.1L398.4 205.8L402.6 206.5L406.7 207.2L410.7 207.9L414.6 208.7L418.5 209.4L422.2 210.2L425.9 211.0L429.5 211.9L432.9 212.7L436.3 213.5L439.6 214.4L442.7 215.2L445.7 216.1L448.7 217.0L451.5 217.9L454.2 218.8L456.8 219.7L459.2 220.6L461.5 221.5L463.7 222.4L465.8 223.3L467.8 224.3L469.6 225.2L471.3 226.1L472.9 227.0L474.3 227.9L475.6 228.8L476.7 229.7L477.8 230.6L478.6 231.5L479.4 232.4L480.0 233.3L480.5 234.2L480.8 235.0L481.0 235.9L481.0 236.7L481.0 237.5L480.7 238.3L480.4 239.1L479.9 239.9L479.2 240.7L478.4 241.4L477.5 242.2L476.5 242.9L475.3 243.6L474.0 244.2L472.5 244.9L471.0 245.5L469.2 246.1L467.4 246.7L465.4 247.3L463.3 247.8L461.1 248.4L458.8 248.8L456.3 249.3L453.8 249.8L451.1 250.2L448.3 250.6L445.4 250.9L442.3 251.3L439.2 251.6L436.0 251.9L432.6 252.1L429.2 252.4L425.7 252.6L422.1 252.7L418.4 252.9L414.6 253.0L410.7 253.1L406.7 253.1L402.7 253.2L398.6 253.2L394.4 253.1L390.2 253.1L385.9 253.0L381.5 252.9L377.1 252.7L372.6 252.6L368.1 252.4L363.5 252.1L358.9 251.9L354.2 251.6L349.5 251.3L344.8 250.9L340.1 250.6L335.3 250.2L330.5 249.8L325.7 249.3L320.9 248.9L316.1 248.4L311.2 247.9L306.4 247.4L301.6 246.8L296.8 246.2L292.0 245.6L287.2 245.0L282.4 244.4L277.7 243.7L273.0 243.0L268.3 242.4L263.6 241.6L259.0 240.9L254.4 240.2L249.9 239.4L245.4 238.7L241.0 237.9L236.6 237.1L232.3 236.3L228.1 235.5L223.9 234.7L219.8 233.8L215.8 233.0L211.8 232.1L207.9 231.3L204.1 230.4L200.4 229.6L196.8 228.7L193.3 227.8L189.8 227.0L186.5 226.1L183.2 225.2L180.1 224.3L177.1 223.5L174.1 222.6L171.3 221.8L168.6 220.9L166.0 220.0L163.5 219.2L161.2 218.4L158.9 217.5L156.8 216.7L154.8 215.9L152.9 215.1L151.2 214.3L149.6 213.5L148.1 212.8L146.7 212.0L145.5 211.3L144.4 210.5L143.4 209.8L142.6 209.1L141.9 208.5L141.3 207.8L140.9 207.2L140.6 206.6L140.4 205.9L140.4 205.4L140.5 204.8L140.7 204.3L141.1 203.8L141.6 203.3L142.3 202.8L143.0 202.3L144.0 201.9L145.0 201.5L146.2 201.1L147.5 200.8L148.9 200.4L150.5 200.1L152.2 199.9L154.0 199.6L156.0 199.4L158.0 199.2L160.2 199.0L162.5 198.8L164.9 198.7L167.5 198.6L170.1 198.5L172.9 198.5L175.7 198.5L178.7 198.5L181.8 198.5L185.0 198.6L188.3 198.6L191.6 198.8L195.1 198.9L198.7 199.1L202.3 199.2L206.1 199.4L209.9 199.7L213.8 199.9L217.7 200.2L221.8 200.5L225.9 200.9L230.1 201.2L234.3 201.6L238.6 202.0L243.0 202.4L247.4 202.9L251.9 203.3L256.4 203.8L260.9 204.3L265.5 204.8L270.1 205.4L274.8 205.9L279.4 206.5L284.1 207.1L288.9 207.7L293.6 208.3L298.3 208.9L303.1 209.6L307.9 210.3L312.6 210.9L317.4 211.6L322.1 212.3L326.9 213.0L331.6 213.8L336.3 214.5L341.0 215.2L345.6 216.0L350.3 216.7L354.9 217.5L359.4 218.2L363.9 219.0L368.4 219.8L372.8 220.5L377.2 221.3L381.5 222.1L385.8 222.9L390.0 223.7L394.1 224.4L398.2 225.2L402.2 226.0L406.1 226.8L409.9 227.5L413.7 228.3L417.4 229.0L420.9 229.8L424.4 230.5L427.9 231.3L431.2 232.0L434.4 232.7L437.5 233.4L440.5 234.1L443.4 234.8L446.2 235.5L448.9 236.1L451.4 236.8L453.9 237.4L456.2 238.0L458.5 238.7L460.6 239.2L462.5 239.8L464.4 240.4L466.1 240.9L467.7 241.5L469.2 242.0L470.6 242.4L471.8 242.9L472.9 243.4L473.8 243.8L474.6 244.2L475.3 244.6L475.9 245.0L476.3 245.3L476.6 245.7L476.8 246.0L476.8 246.3L476.7 246.5L476.4 246.8L476.0 247.0L475.5 247.2L474.8 247.4L474.1 247.5L473.1 247.7L472.1 247.8L470.9 247.9L469.6 247.9L468.1 248.0L466.6 248.0L464.9 248.0L463.1 248.0L461.1 247.9L459.0 247.9L456.8 247.8L454.5 247.7L452.1 247.5L449.6 247.4L446.9 247.2L444.1 247.0L441.3 246.8L438.3 246.5L435.2 246.3L432.0 246.0L428.7 245.7L425.3 245.4L421.9 245.0L418.3 244.7L414.6 244.3L410.9 243.9L407.1 243.5L403.1 243.1L399.2 242.7L395.1 242.2L391.0 241.7L386.8 241.2L382.5 240.7L378.2 240.2L373.9 239.7L369.4 239.2L365.0 238.6L360.4 238.0L355.9 237.5L351.3 236.9L346.6 236.3L342.0 235.7L337.3 235.1L332.6 234.4L327.8 233.8L323.1 233.2L318.3 232.5L313.6 231.9L308.8 231.2L304.0 230.6L299.2 229.9L294.5 229.3L289.7 228.6L285.0 228.0L280.3 227.3L275.6 226.6L270.9 226.0L266.3 225.3L261.7 224.6L257.1 224.0L252.6 223.3L248.1 222.7L243.6 222.0L239.3 221.4L234.9 220.7L230.7 220.1L226.5 219.5L222.3 218.9L218.2 218.3L214.3 217.7L210.3 217.1L206.5 216.5L202.7 215.9L199.1 215.3L195.5 214.8L192.0 214.3L188.6 213.7L185.3 213.2L182.1 212.7L178.9 212.2L175.9 211.7L173.1 211.3L170.3 210.8L167.6 210.4L165.0 210.0L162.6 209.6L160.3 209.2L158.1 208.8L156.0 208.5L154.0 208.1L152.2 207.8L150.5 207.5L148.9 207.2L147.4 207.0L146.1 206.7L144.9 206.5L143.9 206.3L142.9 206.1L142.2 205.9L141.5 205.7L141.0 205.6L140.6 205.5L140.3 205.4L140.2 205.3L140.3 205.2L140.4 205.2L140.7 205.2L141.1 205.2L141.7 205.2L142.4 205.2L143.2 205.2L144.2 205.3L145.3 205.4L146.6 205.5L147.9 205.6L149.4 205.7L151.1 205.9L152.8 206.1L154.7 206.3L156.7 206.5L158.8 206.7L161.1 206.9L163.5 207.2L166.0 207.5L168.6 207.7L171.3 208.0L174.1 208.4L177.1 208.7L180.1 209.0L183.3 209.4L186.5 209.7L189.9 210.1L193.4 210.5L196.9 210.9L200.6 211.4L204.3 211.8L208.1 212.2L212.0 212.7L216.0 213.1L220.0 213.6L224.2 214.1L228.4 214.6L232.6 215.0L236.9 215.5L241.3 216.1L245.8 216.6L250.3 217.1L254.8 217.6L259.4 218.1L264.0 218.7L268.7 219.2L273.4 219.7L278.1 220.3L282.9 220.8L287.6 221.4L292.4 221.9L297.2 222.5L302.1 223.0L306.9 223.5L311.7 224.1L316.6 224.6L321.4 225.2L326.2 225.7L331.0 226.2L335.8 226.8L340.5 227.3L345.3 227.8L350.0 228.3L354.7 228.8L359.3 229.4L363.9 229.9L368.5 230.3L373.0 230.8L377.5 231.3L381.9 231.8L386.2 232.2L390.5 232.7L394.7 233.1L398.9 233.6L403.0 234.0L407.0 234.4L410.9 234.8L414.8 235.2L418.5 235.5L422.2 235.9L425.8 236.3L429.3 236.6L432.7 236.9L435.9 237.3L439.1 237.7L442.1 238.0L445.1 238.4L447.9 238.7L450.6 239.0L453.2 239.3L455.7 239.6L458.1 239.9L460.4 240.2L462.5 240.4L464.5 240.7L466.4 240.9L468.1 241.1L469.7 241.3L471.2 241.5L472.6 241.7L473.8 241.8L474.9 242.0L475.8 242.1L476.6 242.2L477.3 242.3L477.9 242.4L478.3 242.4L478.5 242.5L478.7 242.5L478.7 242.5L478.5 242.5L478.2 242.5L477.8 242.4L477.3 242.4L476.6 242.3L475.8 242.2L474.8 242.1L473.7 242.0L472.5 241.8L471.1 241.7L469.6 241.5L468.0 241.3L466.3 241.1L464.4 240.9L462.4 240.6L460.3 240.4L458.0 240.1L455.7 239.8L453.2 239.5L450.6 239.2L447.9 238.9L445.0 238.5L442.1 238.2L439.1 237.8L435.9 237.4L432.7 237.0L429.3 236.6L425.9 236.1L422.3 235.7L418.7 235.3L415.0 234.8L411.2 234.3L407.3 233.8L403.3 233.3L399.3 232.8L395.2 232.3L391.0 231.8L386.8 231.2L382.5 230.7L378.1 230.1L373.7 229.6L369.2 229.0L364.7 228.4L360.1 227.8L355.5 227.3L350.9 226.7L346.2 226.1L341.5 225.5L336.8 224.9L332.0 224.3L327.3 223.7L322.5 223.0L317.7 222.4L312.9 221.8L308.1 221.2L303.3 220.6L298.5 220.0L293.7 219.4L289.0 218.8L284.2 218.2L279.5 217.6L274.8 217.0L270.1 216.5L265.5 215.9L260.9 215.3L256.3 214.7L251.8 214.2L247.3 213.6L242.9 213.1L238.5 212.6L234.2 212.0L229.9 211.5L225.7 211.0L221.6 210.5L217.6 210.1L213.6 209.6L209.7 209.1L205.9 208.7L202.1 208.3L198.5 207.9L194.9 207.5L191.5 207.1L188.1 206.7L184.8 206.4L181.7 206.0L178.6 205.7L175.6 205.4L172.8 205.1L170.0 204.9L167.4 204.6L164.9 204.4L162.5 204.2L160.2 204.0L158.1 203.8L156.0 203.7L154.1 203.6L152.3 203.4L150.6 203.4L149.1 203.3L147.7 203.2L146.4 203.2L145.3 203.2L144.3 203.2L143.4 203.3L142.6 203.3L142.0 203.4L141.6 203.5L141.2 203.6L141.0 203.7L140.9 203.9L141.0 204.1L141.2 204.3L141.5 204.5L142.0 204.8L142.6 205.0L143.3 205.3L144.2 205.6L145.2 205.9L146.3 206.3L147.6 206.6L149.0 207.0L150.5 207.4L152.2 207.8L153.9 208.3L155.8 208.7L157.8 209.2L160.0 209.7L162.3 210.2L164.6 210.7L167.1 211.3L169.7 211.8L172.5 212.4L175.3 213.0L178.2 213.6L181.3 214.2L184.4 214.8L187.7 215.4L191.0 216.1L194.4 216.7L198.0 217.4L201.6 218.1L205.3 218.8L209.1 219.5L212.9 220.2L216.9 220.9L220.9 221.6L225.0 222.3L229.2 223.0L233.4 223.8L237.6 224.5L242.0 225.2L246.4 226.0L250.8 226.7L255.3 227.4L259.8 228.2L264.4 228.9L269.0 229.7L273.6 230.4L278.3 231.1L283.0 231.9L287.7 232.6L292.4 233.3L297.2 234.0L301.9 234.7L306.7 235.4L311.4 236.1L316.2 236.8L320.9 237.4L325.6 238.1L330.4 238.8L335.1 239.4L339.8 240.0L344.4 240.6L349.0 241.2L353.6 241.8L358.2 242.4L362.7 242.9L367.2 243.5L371.7 244.0L376.0 244.5L380.4 245.0L384.6 245.4L388.9 245.9L393.0 246.3L397.1 246.7L401.1 247.1L405.0 247.5L408.9 247.8L412.7 248.1L416.4 248.4L420.0 248.7L423.5 248.9L426.9 249.2L430.3 249.4L433.5 249.5L436.7 249.7L439.7 249.8L442.6 249.9L445.5 250.0L448.2 250.1L450.8 250.1L453.3 250.1L455.7 250.1L457.9 250.0L460.1 249.9L462.1 249.8L464.0 249.7L465.8 249.6L467.4 249.4L469.0 249.2L470.3 249.0L471.6 248.7L472.8 248.4L473.8 248.1L474.6 247.8L475.4 247.4L476.0 247.1L476.5 246.7L476.8 246.2L477.0 245.8L477.1 245.3L477.0 244.8L476.8 244.3L476.5 243.8L476.0 243.2L475.4 242.6L474.7 242.1L473.8 241.4L472.8 240.8L471.7 240.1L470.5 239.5L469.1 238.8L467.6 238.1L465.9 237.4L464.2 236.6L462.3 235.9L460.2 235.1L458.1 234.3L455.9 233.6L453.5 232.8L451.0 232.0L448.4 231.1L445.7 230.3L442.8 229.5L439.9 228.6L436.9 227.8L433.7 226.9L430.5 226.1L427.1 225.2L423.7 224.4L420.2 223.5L416.6 222.6L412.9 221.8L409.1 220.9L405.2 220.0L401.2 219.2L397.2 218.3L393.1 217.5L389.0 216.6L384.7 215.8L380.4 215.0L376.1 214.2L371.7 213.3L367.2 212.5L362.7 211.7L358.2 211.0L353.6 210.2L349.0 209.4L344.3 208.7L339.6 208.0L334.9 207.3L330.1 206.6L325.4 205.9L320.6 205.3L315.8 204.6L311.0 204.0L306.2 203.4L301.4 202.8L296.7 202.3L291.9 201.8L287.1 201.3L282.3 200.8L277.6 200.3L272.9 199.9L268.2 199.5L263.6 199.1L258.9 198.8L254.4 198.4L249.8 198.1L245.3 197.9L240.9 197.6L236.5 197.4L232.1 197.2L227.9 197.0L223.6 196.9L219.5 196.8L215.4 196.7L211.4 196.7L207.5 196.7L203.6 196.7L199.9 196.8L196.2 196.8L192.6 196.9L189.1 197.1L185.7 197.3L182.4 197.4L179.2 197.7L176.0 197.9L173.0 198.2L170.2 198.5L167.4 198.9L164.7 199.2L162.1 199.6L159.7 200.1L157.4 200.5L155.2 201.0L153.1 201.5L151.1 202.0L149.3 202.6L147.6 203.2L146.0 203.8L144.6 204.4L143.2 205.1L142.1 205.7L141.0 206.4L140.1 207.1L139.3 207.9L138.7 208.6L138.2 209.4L137.8 210.2L137.6 211.0L137.5 211.8L137.5 212.6L137.7 213.5L138.0 214.3L138.5 215.2L139.1 216.1L139.8 217.0L140.7 217.9L141.7 218.8L142.8 219.7L144.1 220.7L145.5 221.6L147.0 222.5L148.7 223.5L150.5 224.4L152.5 225.3L154.5 226.3L156.7 227.2L159.0 228.2L161.4 229.1L164.0 230.0L166.7 231.0L169.5 231.9L172.4 232.8L175.4 233.7L178.5 234.6L181.7 235.5L185.1 236.3L188.5 237.2L192.1 238.1L195.7 238.9L199.4 239.7L203.3 240.5L207.2 241.3L211.2 242.1L215.3 242.8L219.4 243.5L223.6 244.3L228.0 244.9L232.3 245.6L236.8 246.3L241.3 246.9L245.8 247.5L250.5 248.0L255.1 248.6L259.8 249.1L264.6 249.6L269.4 250.1L274.2 250.5L279.1 250.9L284.0 251.3L288.9 251.7L293.8 252.0L298.8 252.3L303.8 252.5L308.7 252.8L313.7 253.0L318.7 253.2L323.7 253.3L328.6 253.4L333.6 253.5L338.5 253.5L343.5 253.5L348.3 253.5L353.2 253.5L358.0 253.4L362.8 253.3L367.6 253.2L372.3 253.0L377.0 252.8L381.6 252.5L386.2 252.3L390.7 252.0L395.1 251.7L399.5 251.3L403.8 250.9L408.0 250.5L412.1 250.1L416.2 249.6L420.2 249.1L424.1 248.6L427.9 248.0L431.6 247.5L435.2 246.9L438.7 246.3L442.2 245.6L445.5 245.0L448.7 244.3L451.7 243.6L454.7 242.8L457.6 242.1L460.3 241.3L462.9 240.5L465.4 239.7L467.8 238.9L470.0 238.1L472.1 237.3L474.1 236.4L475.9 235.5L477.6 234.7L479.2 233.8L480.6 232.9L481.9 232.0L483.1 231.1L484.1 230.2L484.9 229.2L485.7 228.3L486.2 227.4L486.7 226.5L486.9 225.5L487.1 224.6L487.1 223.7L486.9 222.8L486.6 221.9L486.2 220.9L485.6 220.0L484.9 219.1L484.0 218.2L482.9 217.4L481.8 216.5L480.5 215.6L479.0 214.8L477.4 213.9L475.7 213.1L473.8 212.3L471.8 211.5L469.6 210.7L467.3 210.0L464.9 209.2L462.4 208.5L459.7 207.8L456.9 207.1L454.0 206.4L450.9 205.8L447.8 205.2L444.5 204.6L441.1 204.0L437.6 203.5L434.0 202.9L430.2 202.4L426.4 202.0L422.5 201.5L418.5 201.1L414.4 200.7L410.2 200.4L405.9 200.0L401.5 199.7L397.0 199.4L392.5 199.2L387.9 199.0L383.2 198.8L378.5 198.6L373.7 198.5L368.8 198.4L363.9 198.3L359.0 198.3L354.0 198.2L348.9 198.3L343.9 198.3L338.8 198.4L333.6 198.5L328.5 198.6L323.3 198.8L318.1 199.0L312.9 199.2L307.7 199.4L302.4 199.7L297.2 200.0L292.0 200.3L286.8 200.7L281.6 201.0L276.5 201.4L271.4 201.9L266.2 202.3L261.2 202.8L256.1 203.3L251.1 203.8L246.2 204.3L241.3 204.9L236.4 205.5L231.6 206.1L226.9 206.7L222.2 207.3L217.6 208.0L213.1 208.7L208.7 209.3L204.3 210.0L200.0 210.8L195.8 211.5L191.7 212.2L187.7 213.0L183.8 213.7L180.0 214.5L176.3 215.3L172.7 216.1L169.2 216.8L165.9 217.6L162.6 218.4L159.5 219.3L156.5 220.1L153.6 220.9L150.8 221.7L148.2 222.5L145.7 223.3L143.4 224.1L141.2 224.9L139.1 225.7L137.1 226.5L135.3 227.3L133.7 228.1L132.2 228.9L130.8 229.7L129.6 230.4L128.6 231.2L127.6 231.9L126.9 232.7L126.3 233.4L125.8 234.1L125.5 234.8L125.3 235.5L125.3 236.2L125.5 236.8L125.8 237.4L126.3 238.1L126.9 238.7L127.6 239.2L128.5 239.8L129.6 240.4L130.8 240.9L132.2 241.4L133.7 241.9L135.3 242.3L137.1 242.8L139.1 243.2L141.2 243.6L143.4 244.0L145.8 244.3L148.3 244.7L150.9 245.0L153.7 245.3L156.6 245.5L159.6 245.8L162.8 246.0L166.1 246.2L169.5 246.3L173.0 246.5L176.6 246.6L180.4 246.7L184.2 246.7L188.2 246.8L192.2 246.8L196.4 246.8L200.6 246.8L205.0 246.7L209.4 246.6L213.9 246.5L218.5 246.4L223.2 246.3L227.9 246.1L232.7 245.9L237.6 245.7L242.6 245.4L247.5 245.2L252.6 244.9L257.7 244.6L262.8 244.3L268.0 244.0L273.2 243.6L278.5 243.2L283.7 242.8L289.0 242.4L294.3 242.0L299.7 241.5L305.0 241.1L310.3 240.6L315.7 240.1L321.0 239.6L326.3 239.1L331.6 238.6L336.9 238.0L342.2 237.5L347.4 236.9L352.6 236.3L357.8 235.7L362.9 235.2L368.0 234.6L373.1 233.9L378.1 233.3L383.0 232.7L387.9 232.1L392.7 231.5L397.4 230.8L402.1 230.2L406.6 229.6L411.1 228.9L415.6 228.3L419.9 227.6L424.1 227.0L428.3 226.4L432.3 225.7L436.3 225.1L440.1 224.5L443.8 223.9L447.4 223.2L450.9 222.6L454.3 222.0L457.6 221.4L460.7 220.8L463.7 220.2L466.6 219.7L469.4 219.1L472.0 218.5L474.5 218.0L476.8 217.4L479.0 216.9L481.1 216.4L483.0 215.9L484.8 215.4L486.4 214.9L487.9 214.5L489.2 214.0L490.4 213.6L491.4 213.2L492.3 212.8L493.0 212.4L493.6 212.0L494.0 211.6L494.3 211.3L494.4 211.0L494.4 210.7L494.2 210.4L493.8 210.1L493.3 209.9L492.6 209.6L491.8 209.4L490.9 209.2L489.8 209.0L488.5 208.9L487.1 208.7L485.5 208.6L483.8 208.5L482.0 208.4L480.0 208.3L477.8 208.3L475.6 208.2L473.1 208.2L470.6 208.2L467.9 208.2L465.1 208.2L462.1 208.3L459.1 208.4L455.9 208.4L452.5 208.6L449.1 208.7L445.6 208.8L441.9 209.0L438.1 209.1L434.2 209.3L430.2 209.5L426.1 209.7L422.0 210.0L417.7 210.2L413.3 210.4L408.9 210.7L404.3 211.0L399.7 211.3L395.0 211.6L390.3 211.9L385.4 212.3L380.5 212.6L375.6 213.0L370.6 213.3L365.5 213.7L360.4 214.1L355.3 214.5L350.1 214.9L344.9 215.3L339.6 215.7L334.4 216.1L329.1 216.5L323.8 217.0L318.5 217.4L313.2 217.8L307.8 218.3L302.5 218.7L297.2 219.2L291.9 219.6L286.6 220.1L281.3 220.6L276.1 221.0L270.9 221.5L265.7 221.9L260.5 222.4L255.4 222.9L250.3 223.3L245.3 223.8L240.4 224.2L235.5 224.7L230.6 225.1L225.8 225.6L221.1 226.0L216.5 226.5L211.9 226.9L207.5 227.3L203.1 227.7L198.8 228.1L194.6 228.5L190.5 228.9L186.4 229.3L182.5 229.7L178.7 230.1L175.0 230.5L171.4 230.8L168.0 231.2L164.6 231.5L161.4 231.8L158.3 232.2L155.3 232.5L152.4 232.8L149.7 233.0L147.1 233.3L144.6 233.6L142.3 233.8L140.1 234.1L138.1 234.3L136.2 234.5L134.4 234.7L132.8 234.9L131.3 235.1L130.0 235.3L128.8 235.4L127.8 235.6L126.9 235.7L126.2 235.8L125.6 235.9L125.2 236.0L124.9 236.1L124.8 236.2L124.8 236.2L125.0 236.3L125.3 236.3L125.8 236.3L126.4 236.3L127.2 236.3L128.2 236.3L129.3 236.2L130.5 236.2L131.9 236.1L133.4 236.1L135.1 236.0L136.9 235.9L138.9 235.8L141.0 235.7L143.2 235.5L145.6 235.4L148.1 235.3L150.7 235.1L153.5 234.9L156.4 234.8L159.4 234.6L162.5 234.4L165.8 234.2L169.2 234.0L172.7 233.7L176.3 233.5L180.0 233.3L183.8 233.0L187.7 232.8L191.8 232.5L195.9 232.3L200.1 232.0L204.4 231.7L208.8 231.5L213.2 231.2L217.8 230.9L222.4 230.6L227.1 230.3L231.8 230.0L236.7 229.7L241.5 229.4L246.5 229.1L251.4 228.8L256.5 228.5L261.5 228.2L266.6 227.9L271.8 227.6L276.9 227.2L282.1 226.9L287.3 226.6L292.6 226.3L297.8 226.0L303.1 225.7L308.3 225.4L313.6 225.1L318.8 224.8L324.1 224.5L329.3 224.2L334.5 223.9L339.7 223.6L344.8 223.3L350.0 223.1L355.0 222.8L360.1 222.5L365.1 222.3L370.1 222.0L375.0 221.7L379.8 221.5L384.6 221.3L389.4 221.0L394.1 220.7L398.7 220.4L403.2 220.2L407.7 219.9L412.1 219.6L416.4 219.4L420.6 219.1L424.7 218.9L428.8 218.6L432.7 218.4L436.5 218.1L440.3 217.9L443.9 217.7L447.4 217.4L450.8 217.2L454.1 217.0L457.3 216.8L460.3 216.6L463.2 216.4L466.0 216.2L468.7 216.1L471.2 215.9L473.6 215.7L475.9 215.6L478.0 215.5L480.0 215.3L481.9 215.2L483.6 215.1L485.1 215.0L486.6 214.9L487.8 214.8L489.0 214.7L489.9 214.7L490.8 214.6L491.5 214.6L492.0 214.5L492.4 214.5L492.6 214.5L492.7 214.5L492.6 214.5L492.4 214.6L492.0 214.6L491.5 214.6L490.8 214.7L490.0 214.8L489.0 214.9L487.9 215.0L486.6 215.1L485.2 215.2L483.6 215.3L481.9 215.5L480.0 215.6L478.0 215.8L475.9 215.9L473.6 216.1L471.2 216.3L468.7 216.5L466.0 216.8L463.2 217.0L460.3 217.2L457.2 217.5L454.0 217.7L450.7 218.0L447.3 218.3L443.8 218.6L440.1 218.9L436.4 219.2L432.5 219.5L428.5 219.8L424.5 220.2L420.3 220.5L416.0 220.8L411.7 221.2L407.3 221.6L402.7 221.9L398.2 222.3L393.5 222.7L388.8 223.1L383.9 223.5L379.1 223.9L374.2 224.3L369.2 224.7L364.1 225.1L359.1 225.5L353.9 225.9L348.8 226.3L343.6 226.7L338.4 227.1L333.1 227.6L327.9 228.0L322.6 228.4L317.3 228.8L312.0 229.2L306.7 229.7L301.3 230.1L296.0 230.5L290.7 230.9L285.5 231.3L280.2 231.7L275.0 232.1L269.8 232.5L264.6 232.9L259.4 233.3L254.3 233.6L249.3 234.0L244.3 234.4L239.3 234.7L234.4 235.1L229.6 235.4L224.8 235.7L220.1 236.1L215.5 236.4L210.9 236.7L206.4 237.0L202.0 237.2L197.7 237.5L193.5 237.8L189.4 238.0L185.4 238.2L181.5 238.5L177.6 238.7L173.9 238.9L170.3 239.0L166.9 239.2L163.5 239.3L160.3 239.5L157.1 239.6" fill="none" stroke="#000" stroke-width="1.55" stroke-linejoin="round" stroke-linecap="round"/><path d="M684.2 182.5L683.4 181.2L683.5 179.6L684.0 177.9L685.0 176.2L686.2 174.7L687.5 173.3L688.9 172.1L690.4 171.0L692.1 170.1L693.8 169.4L695.6 168.7L697.5 168.2L699.4 167.8L701.4 167.5L703.5 167.2L705.6 167.0L707.7 166.9L709.8 166.8L711.9 166.7L714.0 166.7L716.1 166.7L718.2 166.7L720.2 166.7L722.3 166.7L724.4 166.7L726.4 166.8L728.5 166.9L730.5 166.9L732.5 167.0L734.6 167.1L736.6 167.2L738.6 167.4L740.6 167.5L742.6 167.7L744.6 167.8L746.6 168.0L748.5 168.2L750.5 168.4L752.5 168.6L754.5 168.8L756.4 169.0L758.4 169.3L760.3 169.5L762.3 169.8L764.3 170.0L766.2 170.3L768.2 170.6L770.1 170.9L772.1 171.2L774.0 171.5L775.9 171.8L777.9 172.2L779.8 172.5L781.8 172.8L783.7 173.2L785.7 173.5L787.6 173.9L789.6 174.2L791.5 174.6L793.5 175.0L795.4 175.4L797.4 175.8L799.3 176.2L801.3 176.6L803.2 177.0L805.2 177.4L807.1 177.8L809.1 178.2L811.1 178.7L813.0 179.1L815.0 179.6L816.9 180.0L818.9 180.5L820.8 180.9L822.8 181.4L824.7 181.9L826.7 182.4L828.6 182.9L830.6 183.4L832.5 183.9L834.5 184.4L836.4 184.9L838.4 185.4L840.3 185.9L842.3 186.4L844.2 187.0L846.2 187.5L848.1 188.1L850.0 188.6L852.0 189.2L853.9 189.7L855.9 190.3L857.8 190.9L859.7 191.5L861.7 192.1L863.6 192.6L865.5 193.2L867.4 193.8L869.4 194.4L871.3 195.1L873.2 195.7L875.1 196.3L877.0 196.9L878.9 197.6L880.9 198.2L882.8 198.8L884.7 199.5L886.6 200.2L888.5 200.8L890.4 201.5L892.2 202.1L894.1 202.8L896.0 203.5L897.9 204.2L899.8 204.9L901.7 205.6L903.5 206.3L905.4 207.0L907.3 207.7L909.1 208.4L911.0 209.1L912.9 209.9L914.7 210.6L916.6 211.3L918.4 212.1L920.2 212.8L922.1 213.6L923.9 214.3L925.7 215.1L927.5 215.8L929.4 216.6L931.2 217.4L933.0 218.1L934.8 218.9L936.6 219.7L938.4 220.5" fill="none" stroke="#000" stroke-width="3.2" stroke-linejoin="round" stroke-linecap="round"/><path d="M916.6 211.3L918.4 212.1L920.2 212.8L922.1 213.6L923.9 214.3L925.7 215.1L927.5 215.8L929.4 216.6L931.2 217.4L933.0 218.1L934.8 218.9L936.6 219.7L938.4 220.5L940.2 221.3L942.0 222.1L943.7 223.0L945.5 223.8L947.3 224.6L949.1 225.5L950.8 226.3L952.6 227.2L954.3 228.1L956.1 229.0L957.8 229.9L959.6 230.8L961.3 231.8L963.0 232.7L964.7 233.7L966.5 234.7L968.2 235.7L969.9 236.7L971.6 237.7L973.3 238.7L975.0 239.8L976.7 240.9L978.3 242.0L980.0 243.1L981.7 244.2L983.3 245.4L985.0 246.6L986.6 247.8L988.3 249.0L989.9 250.2L991.6 251.5L993.2 252.8L994.8 254.1L996.4 255.5L998.0 256.8L999.7 258.2L1001.2 259.6L1002.8 261.1L1004.4 262.5L1006.0 264.0L1007.5 265.6L1008.9 267.1L1010.3 268.7L1011.7 270.3L1012.9 271.9L1014.1 273.5L1015.2 275.2L1016.1 276.9L1017.0 278.6L1017.7 280.4L1018.2 282.1L1018.6 283.9L1018.9 285.8L1019.0 287.6L1018.9 289.5L1018.7 291.3L1018.3 293.2L1017.8 295.0L1017.2 296.8L1016.4 298.6L1015.6 300.4L1014.7 302.1L1013.7 303.8L1012.6 305.4L1011.4 307.0L1010.2 308.5" fill="none" stroke="#000" stroke-width="2.6" stroke-linejoin="round" stroke-linecap="round"/><path d="M1019.0 287.6L1018.9 289.5L1018.7 291.3L1018.3 293.2L1017.8 295.0L1017.2 296.8L1016.4 298.6L1015.6 300.4L1014.7 302.1L1013.7 303.8L1012.6 305.4L1011.4 307.0L1010.2 308.5L1008.9 309.9L1007.6 311.2L1006.2 312.5L1004.8 313.8L1003.2 314.9L1001.7 316.1L1000.1 317.1L998.4 318.1L996.7 319.1L995.0 320.0L993.2 320.9L991.4 321.7L989.6 322.5L987.7 323.2L985.8 323.9L983.8 324.5L981.9 325.1L979.9 325.7L977.9 326.2L975.8 326.7L973.8 327.2L971.7 327.6L969.7 328.0L967.6 328.4L965.5 328.8L963.4 329.1L961.3 329.4L959.2 329.7L957.1 329.9L955.0 330.1L953.0 330.4L950.9 330.6L948.8 330.8L946.8 330.9L944.7 331.1L942.7 331.2L940.6 331.4L938.6 331.5L936.6 331.6L934.6 331.6L932.5 331.7L930.5 331.8L928.5 331.8L926.5 331.8L924.6 331.8L922.6 331.8L920.6 331.8L918.6 331.8L916.6 331.8L914.7 331.7L912.7 331.6L910.8 331.6L908.8 331.5L906.8 331.4L904.9 331.3L902.9 331.1L901.0 331.0L899.0 330.9L897.1 330.7L895.1 330.5L893.2 330.4L891.2 330.2L889.3 330.0L887.3 329.8L885.4 329.6L883.4 329.3L881.5 329.1L879.5 328.8L877.6 328.6L875.6 328.3" fill="none" stroke="#000" stroke-width="2.0" stroke-linejoin="round" stroke-linecap="round"/><path d="M899.0 330.9L897.1 330.7L895.1 330.5L893.2 330.4L891.2 330.2L889.3 330.0L887.3 329.8L885.4 329.6L883.4 329.3L881.5 329.1L879.5 328.8L877.6 328.6L875.6 328.3L873.7 328.1L871.7 327.8L869.7 327.5L867.8 327.2L865.8 326.9L863.8 326.6L861.8 326.3L859.9 325.9L857.9 325.6L855.9 325.2L853.9 324.9L851.9 324.5L849.9 324.2L848.0 323.8L846.0 323.4L844.0 323.0L842.0 322.6L840.0 322.2L838.0 321.7L836.0 321.3L834.1 320.9L832.1 320.4L830.1 319.9L828.1 319.5L826.1 319.0L824.2 318.5L822.2 318.0L820.2 317.5L818.3 317.0L816.3 316.4L814.4 315.9L812.4 315.4L810.5 314.8L808.6 314.2L806.6 313.6L804.7 313.1L802.8 312.4L800.9 311.8L799.0 311.2L797.1 310.6L795.2 309.9L793.3 309.3L791.4 308.6L789.6 307.9L787.7 307.3L785.8 306.6L784.0 305.9L782.1 305.1L780.3 304.4L778.4 303.7L776.6 302.9L774.8 302.2L772.9 301.4L771.1 300.6L769.3 299.8L767.5 299.0L765.7 298.2L763.9 297.3L762.1 296.5L760.3 295.7L758.5 294.8L756.8 293.9L755.0 293.0L753.2 292.1L751.5 291.2L749.7 290.3L748.0 289.4L746.2 288.4L744.5 287.5L742.7 286.5L741.0 285.5L739.3 284.5L737.6 283.5L735.8 282.5L734.1 281.5L732.4 280.5L730.7 279.4L729.0 278.3L727.4 277.3L725.7 276.2L724.0 275.1L722.3 274.0L720.6 272.9L719.0 271.7L717.3 270.6L715.7 269.4L714.0 268.2L712.4 267.0L710.8 265.8L709.1 264.6" fill="none" stroke="#000" stroke-width="2.5" stroke-linejoin="round" stroke-linecap="round"/><path d="M729.0 278.3L727.4 277.3L725.7 276.2L724.0 275.1L722.3 274.0L720.6 272.9L719.0 271.7L717.3 270.6L715.7 269.4L714.0 268.2L712.4 267.0L710.8 265.8L709.1 264.6L707.5 263.4L706.0 262.1L704.4 260.9L702.8 259.6L701.3 258.2L699.8 256.9L698.3 255.6L696.9 254.2L695.4 252.8L694.0 251.4L692.6 249.9L691.3 248.4L690.0 246.9L688.7 245.4L687.5 243.8L686.2 242.2L685.1 240.6L684.0 239.0L682.9 237.3L681.8 235.6L680.8 233.8L679.9 232.1L679.0 230.3L678.1 228.4L677.3 226.5L676.6 224.6L675.9 222.7L675.3 220.7L674.7 218.8L674.2 216.8L673.8 214.8L673.4 212.8L673.1 210.7L672.9 208.7L672.7 206.7L672.7 204.7L672.7 202.7L672.8 200.8L672.9 198.8L673.2 196.9L673.6 195.0L674.0 193.1L674.6 191.2L675.2 189.4L675.9 187.6L676.8 185.9L677.7 184.2L678.7 182.6L679.8 180.9L680.9 179.4L682.2 177.8L683.5 176.3L684.8 174.9L686.2 173.4L687.7 172.0L689.2 170.6L690.7 169.3L692.3 168.0L693.8 166.7L695.4 165.4L697.1 164.2L698.7 163.0L700.3 161.8L702.0 160.7L703.7 159.6L705.4 158.5L707.1 157.4L708.8 156.3L710.5 155.3L712.2 154.3L714.0 153.4L715.7 152.4L717.5 151.5L719.3 150.6L721.1 149.7L722.9 148.9L724.7 148.0" fill="none" stroke="#000" stroke-width="2.05" stroke-linejoin="round" stroke-linecap="round"/><path d="M702.0 160.7L703.7 159.6L705.4 158.5L707.1 157.4L708.8 156.3L710.5 155.3L712.2 154.3L714.0 153.4L715.7 152.4L717.5 151.5L719.3 150.6L721.1 149.7L722.9 148.9L724.7 148.0L726.5 147.2L728.3 146.4L730.2 145.7L732.0 144.9L733.9 144.2L735.8 143.5L737.7 142.8L739.5 142.1L741.4 141.5L743.3 140.9L745.2 140.3L747.2 139.7L749.1 139.1L751.0 138.6L752.9 138.0L754.9 137.5L756.8 137.0L758.8 136.5L760.7 136.1L762.7 135.6L764.7 135.2L766.6 134.8L768.6 134.3L770.6 134.0L772.6 133.6L774.6 133.2L776.6 132.9L778.6 132.5L780.6 132.2L782.6 131.9L784.6 131.6L786.6 131.3L788.6 131.1L790.6 130.8L792.6 130.6L794.6 130.3L796.6 130.1L798.6 129.9L800.6 129.7L802.6 129.5L804.6 129.3L806.6 129.1L808.6 129.0L810.6 128.8L812.6 128.7L814.6 128.5L816.6 128.4L818.6 128.3L820.6 128.1L822.6 128.0L824.6 127.9L826.6 127.8L828.6 127.8L830.6 127.7L832.6 127.6L834.5 127.6L836.5 127.5L838.5 127.5L840.5 127.5L842.5 127.4L844.5 127.4L846.4 127.4L848.4 127.5L850.4 127.5L852.4 127.5L854.3 127.5L856.3 127.6L858.3 127.7L860.3 127.7L862.2 127.8L864.2 127.9L866.2 128.0L868.2 128.1L870.1 128.2L872.1 128.4L874.1 128.5L876.0 128.7L878.0 128.8L880.0 129.0L881.9 129.2L883.9 129.4L885.9 129.6L887.8 129.8L889.8 130.0L891.8 130.3L893.7 130.5L895.7 130.8L897.7 131.0L899.6 131.3L901.6 131.6L903.6 131.9L905.5 132.2L907.5 132.6L909.4 132.9L911.4 133.3L913.4 133.6L915.3 134.0L917.3 134.4L919.3 134.8L921.2 135.2L923.2 135.6L925.2 136.0L927.1 136.5L929.1 136.9L931.1 137.4L933.0 137.9L935.0 138.4L936.9 138.9L938.9 139.4L940.9 140.0L942.9 140.5L944.8 141.1L946.8 141.6L948.8 142.2L950.7 142.8L952.7 143.4L954.7 144.0L956.6 144.7L958.6 145.3L960.6 146.0L962.5 146.7L964.5 147.4L966.4 148.1L968.3 148.9L970.2 149.6L972.1 150.5L974.0 151.3L975.8 152.2L977.6 153.1L979.4 154.0L981.2 154.9L982.9 155.9L984.6 157.0L986.3 158.1L987.9 159.2L989.5 160.3L991.0 161.5L992.5 162.8L994.0 164.1" fill="none" stroke="#000" stroke-width="2.5" stroke-linejoin="round" stroke-linecap="round"/><path d="M974.0 151.3L975.8 152.2L977.6 153.1L979.4 154.0L981.2 154.9L982.9 155.9L984.6 157.0L986.3 158.1L987.9 159.2L989.5 160.3L991.0 161.5L992.5 162.8L994.0 164.1L995.4 165.4L996.8 166.8L998.1 168.3L999.3 169.8L1000.5 171.3L1001.7 173.0L1002.8 174.6L1003.8 176.4L1004.8 178.1L1005.6 180.0L1006.5 181.8L1007.2 183.7L1007.8 185.7L1008.4 187.6L1008.9 189.5L1009.2 191.5L1009.5 193.4L1009.7 195.4L1009.7 197.3L1009.6 199.1L1009.5 201.0L1009.2 202.8L1008.7 204.5L1008.1 206.2L1007.5 207.9L1006.6 209.4L1005.7 211.0L1004.7 212.5L1003.6 213.9L1002.3 215.3L1001.0 216.7L999.6 218.0L998.2 219.3L996.6 220.5L995.0 221.7L993.3 222.9L991.6 224.0L989.8 225.1L988.0 226.2L986.1 227.2L984.2 228.2L982.3 229.2L980.3 230.1L978.4 231.1" fill="none" stroke="#000" stroke-width="2.0" stroke-linejoin="round" stroke-linecap="round"/><path d="M999.6 218.0L998.2 219.3L996.6 220.5L995.0 221.7L993.3 222.9L991.6 224.0L989.8 225.1L988.0 226.2L986.1 227.2L984.2 228.2L982.3 229.2L980.3 230.1L978.4 231.1L976.4 232.0L974.4 232.9L972.4 233.7L970.4 234.6L968.4 235.4L966.5 236.2L964.5 237.0L962.6 237.7L960.6 238.5L958.7 239.2L956.8 240.0L954.8 240.7L952.9 241.4L951.0 242.0L949.1 242.7L947.2 243.3L945.3 244.0L943.4 244.6L941.5 245.2L939.6 245.8L937.7 246.3L935.8 246.9L934.0 247.5L932.1 248.0L930.2 248.5L928.3 249.0L926.4 249.5L924.6 250.0L922.7 250.5L920.8 250.9L918.9 251.4L917.0 251.8L915.1 252.2L913.2 252.6L911.3 253.0L909.4 253.4L907.5 253.8L905.6 254.2L903.7 254.6L901.7 254.9L899.8 255.3L897.9 255.6L895.9 255.9L894.0 256.2L892.0 256.5L890.1 256.8L888.1 257.1L886.2 257.4L884.2 257.7L882.2 258.0L880.2 258.2L878.2 258.5L876.3 258.7L874.3 258.9L872.3 259.2L870.3 259.4L868.3 259.6L866.3 259.8L864.3 260.0L862.3 260.2L860.3 260.4L858.2 260.6L856.2 260.7L854.2 260.9L852.2 261.0L850.2 261.2L848.2 261.3L846.1 261.5L844.1 261.6L842.1 261.7L840.1 261.9L838.0 262.0L836.0 262.1L834.0 262.2L832.0 262.3L829.9 262.4L827.9 262.5L825.9 262.5L823.9 262.6L821.8 262.7L819.8 262.8L817.8 262.8L815.8 262.9L813.8 262.9L811.7 263.0L809.7 263.0L807.7 263.1L805.7 263.1L803.7 263.2L801.7 263.2L799.7 263.2L797.7 263.3L795.7 263.3L793.7 263.3L791.7 263.3L789.7 263.3L787.7 263.3L785.7 263.3L783.8 263.3L781.8 263.4L779.8 263.4L777.8 263.3L775.9 263.3L773.9 263.3L771.9 263.3L770.0 263.3L768.0 263.2L766.1 263.1L764.1 263.1L762.2 263.0L760.2 262.9L758.3 262.8L756.3 262.7L754.3 262.5L752.4 262.4L750.4 262.2L748.5 262.0L746.5 261.7L744.6 261.5L742.6 261.2L740.6 260.9L738.6 260.6L736.7 260.3L734.7 259.9L732.7 259.5L730.7 259.1L728.7 258.6L726.7 258.1L724.7 257.6L722.7 257.0L720.7 256.4L718.7 255.8L716.7 255.1L714.6 254.4L712.6 253.7L710.6 252.9L708.5 252.1L706.4 251.2L704.4 250.3L702.4 249.4L700.4 248.4L698.5 247.4L696.8 246.3L695.3 245.3L693.9 244.2L692.9 243.1L692.1 241.9L691.6 240.8L691.5 239.6L691.8 238.4L692.4 237.2L693.4 236.1L694.6 234.9L696.1 233.8L697.8 232.7" fill="none" stroke="#000" stroke-width="2.8" stroke-linejoin="round" stroke-linecap="round"/><path d="M696.8 246.3L695.3 245.3L693.9 244.2L692.9 243.1L692.1 241.9L691.6 240.8L691.5 239.6L691.8 238.4L692.4 237.2L693.4 236.1L694.6 234.9L696.1 233.8L697.8 232.7L699.6 231.6L701.5 230.5L703.5 229.6L705.5 228.6L707.5 227.8L709.5 226.9L711.5 226.2L713.5 225.5L715.5 224.9L717.5 224.3L719.5 223.7L721.5 223.2L723.5 222.8L725.5 222.4L727.5 222.0L729.5 221.7L731.5 221.4L733.5 221.1L735.5 220.9L737.5 220.7L739.5 220.6L741.5 220.5L743.5 220.4L745.4 220.3L747.4 220.2L749.4 220.2L751.4 220.2L753.4 220.2L755.4 220.2L757.4 220.3L759.4 220.3L761.3 220.4L763.3 220.4L765.3 220.5L767.3 220.6L769.3 220.6L771.3 220.7L773.3 220.8L775.3 220.9L777.3 220.9L779.3 221.0L781.2 221.1L783.2 221.2L785.2 221.3L787.2 221.4L789.2 221.5L791.2 221.6L793.2 221.7L795.2 221.8L797.2 221.9L799.2 222.0L801.2 222.1L803.2 222.2L805.2 222.3L807.2 222.4L809.2 222.5L811.2 222.7L813.2 222.8L815.2 222.9L817.2 223.0L819.2 223.1L821.2 223.2L823.2 223.3L825.2 223.4L827.2 223.5L829.2 223.7L831.2 223.8L833.2 223.9L835.2 224.0L837.2 224.1L839.2 224.2L841.2 224.3L843.2 224.4L845.2 224.5L847.2 224.6L849.2 224.7L851.2 224.8L853.2 224.9L855.2 225.0L857.2 225.1L859.2 225.2L861.2 225.3L863.2 225.4L865.2 225.5L867.2 225.5L869.3 225.6L871.3 225.7L873.3 225.8L875.3 225.8L877.3 225.9L879.3 226.0L881.3 226.0L883.3 226.1L885.3 226.1L887.3 226.2L889.3 226.2L891.3 226.3L893.3 226.3L895.3 226.3L897.3 226.4L899.3 226.4L901.3 226.4L903.3 226.4L905.3 226.4L907.3 226.4L909.3 226.4L911.3 226.4L913.3 226.4L915.3 226.4L917.3 226.4L919.3 226.4L921.3 226.3L923.3 226.3L925.3 226.3L927.2 226.2L929.2 226.2L931.2 226.1L933.2 226.0L935.2 225.9L937.2 225.9L939.2 225.8L941.2 225.7L943.2 225.6L945.2 225.4L947.2 225.3L949.2 225.2L951.1 225.0L953.1 224.8L955.1 224.6L957.1 224.4L959.1 224.2L961.1 223.9L963.0 223.6L965.0 223.3L967.0 223.0L968.9 222.6L970.9 222.2L972.9 221.8L974.8 221.4L976.8 220.9L978.8 220.4L980.7 219.8L982.7 219.2L984.6 218.6L986.5 217.9L988.5 217.2L990.4 216.5L992.4 215.7L994.3 214.8L996.2 214.0L998.1 213.0L999.9 212.1L1001.5 211.0L1002.8 210.0L1003.7 208.9L1004.1 207.7L1003.8 206.6L1002.8 205.3L1001.3 204.1L999.3 202.9L997.1 201.8" fill="none" stroke="#000" stroke-width="2.3" stroke-linejoin="round" stroke-linecap="round"/><path d="M994.3 214.8L996.2 214.0L998.1 213.0L999.9 212.1L1001.5 211.0L1002.8 210.0L1003.7 208.9L1004.1 207.7L1003.8 206.6L1002.8 205.3L1001.3 204.1L999.3 202.9L997.1 201.8L994.8 200.7L992.6 199.7L990.5 198.9L988.5 198.1L986.5 197.5L984.6 196.8L982.7 196.3L980.9 195.8L979.0 195.3L977.2 194.8L975.3 194.4L973.5 194.0L971.6 193.5L969.7 193.1L967.8 192.7L965.9 192.3L964.0 191.9L962.1 191.5L960.1 191.1L958.2 190.7L956.2 190.4L954.2 190.0L952.3 189.7L950.3 189.3L948.3 189.0L946.3 188.7L944.3 188.4L942.3 188.1L940.3 187.8L938.3 187.6L936.3 187.3L934.3 187.1L932.3 186.8L930.3 186.6L928.3 186.4L926.3 186.2L924.3 186.0L922.3 185.9L920.3 185.7L918.3 185.5L916.3 185.4L914.3 185.3L912.2 185.2L910.2 185.1L908.2 185.0L906.2 184.9L904.2 184.8L902.2 184.8L900.2 184.7L898.2 184.7L896.2 184.6L894.2 184.6L892.2 184.6L890.2 184.6L888.2 184.6L886.2 184.6L884.2 184.7L882.2 184.7L880.2 184.7L878.2 184.8L876.2 184.8L874.2 184.9L872.2 185.0L870.2 185.1L868.2 185.2L866.2 185.2L864.2 185.4L862.2 185.5L860.2 185.6L858.2 185.7L856.3 185.8L854.3 186.0L852.3 186.1L850.3 186.2L848.3 186.4L846.3 186.5L844.3 186.7L842.3 186.9L840.3 187.0L838.3 187.2L836.3 187.4L834.3 187.6L832.4 187.8L830.4 188.0L828.4 188.2L826.4 188.4L824.4 188.6L822.4 188.9L820.4 189.1L818.5 189.4L816.5 189.6L814.5 189.9L812.5 190.1L810.5 190.4L808.6 190.7L806.6 191.0L804.6 191.3L802.6 191.6L800.7 192.0L798.7 192.3L796.7 192.6L794.8 193.0L792.8 193.4L790.8 193.7L788.9 194.1L786.9 194.5L785.0 194.9L783.0 195.4L781.1 195.8L779.1 196.2L777.2 196.7L775.2 197.2L773.3 197.7L771.3 198.1L769.4 198.7L767.5 199.2L765.5 199.7L763.6 200.3L761.7 200.8L759.7 201.4L757.8 202.0L755.9 202.6L754.0 203.2L752.1 203.9L750.2 204.5L748.3 205.2L746.4 205.9L744.5 206.5L742.6 207.3L740.7 208.0L738.8 208.7L737.0 209.4L735.1 210.2L733.2 211.0L731.4 211.8L729.6 212.6L727.7 213.4L725.9 214.2L724.1 215.0L722.3 215.9L720.5 216.7L718.7 217.6L717.0 218.5L715.2 219.4L713.4 220.3L711.7 221.3L710.0 222.2L708.3 223.1L706.6 224.1L704.9 225.1L703.2 226.2L701.6 227.2L700.0 228.4L698.4 229.6L696.9 230.8L695.4 232.1L693.9 233.5L692.5 235.0L691.1 236.6L689.8 238.2L688.6 239.9L687.4 241.7L686.3 243.5L685.4 245.4L684.5 247.3L683.8 249.3L683.2 251.2L682.7 253.1L682.4 255.1L682.3 257.0L682.2 259.0L682.4 260.9L682.6 262.8" fill="none" stroke="#000" stroke-width="2.95" stroke-linejoin="round" stroke-linecap="round"/><path d="M688.6 239.9L687.4 241.7L686.3 243.5L685.4 245.4L684.5 247.3L683.8 249.3L683.2 251.2L682.7 253.1L682.4 255.1L682.3 257.0L682.2 259.0L682.4 260.9L682.6 262.8L682.9 264.7L683.4 266.5L684.0 268.4L684.7 270.2L685.4 272.0L686.3 273.7L687.3 275.5L688.3 277.2L689.4 278.8L690.6 280.4L691.9 282.0L693.2 283.5L694.6 284.9L696.0 286.3L697.5 287.7L699.0 288.9L700.5 290.2L702.1 291.4L703.8 292.5L705.5 293.6L707.2 294.7L708.9 295.7L710.7 296.7L712.5 297.7L714.3 298.6L716.2 299.5L718.0 300.3L719.9 301.2L721.8 301.9L723.7 302.7L725.6 303.5L727.5 304.2L729.5 304.9L731.4 305.6L733.3 306.2L735.2 306.9L737.2 307.5L739.1 308.2L741.0 308.8L742.9 309.4L744.8 310.0L746.7 310.6L748.6 311.2L750.5 311.7L752.4 312.3L754.2 312.8L756.1 313.4L758.0 313.9L759.9 314.4L761.8 314.9L763.8 315.4L765.7 315.8L767.6 316.3L769.5 316.8L771.5 317.2L773.4 317.6L775.4 318.1L777.3 318.5L779.3 318.9L781.2 319.2L783.2 319.6L785.2 320.0L787.1 320.3L789.1 320.7L791.1 321.0L793.1 321.3L795.1 321.6L797.0 321.9L799.0 322.2L801.0 322.5L803.0 322.7L805.0 323.0L807.0 323.2L809.0 323.4L811.0 323.6L813.0 323.8L815.0 324.0L817.0 324.2L819.0 324.4L821.1 324.5" fill="none" stroke="#000" stroke-width="1.95" stroke-linejoin="round" stroke-linecap="round"/><path d="M797.0 321.9L799.0 322.2L801.0 322.5L803.0 322.7L805.0 323.0L807.0 323.2L809.0 323.4L811.0 323.6L813.0 323.8L815.0 324.0L817.0 324.2L819.0 324.4L821.1 324.5L823.1 324.6L825.1 324.8L827.1 324.9L829.1 325.0L831.1 325.1L833.1 325.1L835.1 325.2L837.1 325.3L839.1 325.3L841.1 325.3L843.1 325.3L845.1 325.3L847.1 325.3L849.1 325.3L851.1 325.3L853.1 325.2L855.1 325.2L857.1 325.1L859.1 325.0L861.1 324.9L863.1 324.8L865.1 324.7L867.1 324.6L869.1 324.5L871.1 324.3L873.1 324.1L875.0 324.0L877.0 323.8L879.0 323.6L881.0 323.4L883.0 323.2L885.0 323.0L886.9 322.7L888.9 322.5L890.9 322.2L892.9 321.9L894.9 321.7L896.8 321.4L898.8 321.1L900.8 320.8L902.8 320.4L904.7 320.1L906.7 319.8L908.7 319.4L910.6 319.0L912.6 318.7L914.6 318.3L916.5 317.9L918.5 317.5L920.5 317.1L922.4 316.6L924.4 316.2L926.3 315.7L928.3 315.3L930.2 314.8L932.2 314.3L934.1 313.8L936.0 313.3L938.0 312.7L939.9 312.2L941.8 311.6L943.7 311.0L945.7 310.4L947.6 309.8L949.5 309.2L951.4 308.6L953.3 307.9L955.2 307.3L957.1 306.6L958.9 305.9L960.8 305.2L962.7 304.5L964.6 303.7L966.4 303.0L968.3 302.2L970.1 301.4L972.0 300.6L973.8 299.7L975.6 298.9L977.5 298.0L979.3 297.1L981.1 296.2L982.9 295.3L984.7 294.4L986.4 293.4L988.2 292.4L989.9 291.4L991.6 290.3L993.3 289.2L994.9 288.1L996.6 287.0L998.1 285.8L999.7 284.6L1001.2 283.3L1002.7 282.1L1004.1 280.7L1005.5 279.4L1006.9 278.0L1008.2 276.5L1009.4 275.0L1010.6 273.5L1011.8 271.9L1012.9 270.3L1013.9 268.6L1014.9 266.8L1015.8 265.1L1016.6 263.2L1017.4 261.3L1018.1 259.4L1018.7 257.4L1019.3 255.4L1019.8 253.4L1020.2 251.4L1020.6 249.3L1020.9 247.3L1021.1 245.2L1021.2 243.1L1021.3 241.1L1021.2 239.0L1021.1 237.0L1020.9 235.0L1020.6 233.0L1020.3 231.1L1019.9 229.1L1019.3 227.3L1018.8 225.4L1018.1 223.6L1017.4 221.8" fill="none" stroke="#000" stroke-width="2.4" stroke-linejoin="round" stroke-linecap="round"/><path d="M1020.9 247.3L1021.1 245.2L1021.2 243.1L1021.3 241.1L1021.2 239.0L1021.1 237.0L1020.9 235.0L1020.6 233.0L1020.3 231.1L1019.9 229.1L1019.3 227.3L1018.8 225.4L1018.1 223.6L1017.4 221.8L1016.6 220.0L1015.7 218.2L1014.8 216.5L1013.9 214.8L1012.9 213.1L1011.8 211.5L1010.7 209.9L1009.5 208.3L1008.3 206.7L1007.0 205.1L1005.8 203.6L1004.4 202.1L1003.1 200.6L1001.7 199.1L1000.3 197.7L998.8 196.3L997.4 194.9L995.9 193.5L994.4 192.1L992.9 190.7L991.4 189.4L989.9 188.1L988.3 186.8L986.8 185.5L985.2 184.2L983.6 183.0L982.1 181.8L980.4 180.5L978.8 179.3L977.2 178.2L975.6 177.0L973.9 175.8L972.3 174.7L970.6 173.6L968.9 172.5L967.2 171.4L965.6 170.3L963.9 169.2L962.1 168.2L960.4 167.1L958.7 166.1L957.0 165.1L955.2 164.1L953.5 163.1L951.7 162.2L950.0 161.2L948.2 160.3L946.4 159.3L944.6 158.4L942.8 157.5L941.1 156.6L939.3 155.7L937.5 154.9L935.7 154.0L933.8 153.2L932.0 152.3L930.2 151.5L928.4 150.7L926.6 149.9L924.7 149.1L922.9 148.3L921.1 147.5L919.2 146.8L917.4 146.0L915.5 145.3L913.6 144.6L911.8 143.9L909.9 143.2L908.1 142.5L906.2 141.8L904.3 141.1L902.4 140.4L900.5 139.8L898.7 139.1L896.8 138.5L894.9 137.9L893.0 137.3L891.1 136.7L889.2 136.1L887.3 135.5L885.3 134.9L883.4 134.3L881.5 133.8L879.6 133.2L877.7 132.7L875.7 132.1L873.8 131.6L871.9 131.1L869.9 130.6L868.0 130.1L866.1 129.6L864.1 129.1L862.2 128.6L860.2 128.1L858.3 127.7L856.3 127.2L854.4 126.8L852.4 126.3L850.5 125.9L848.5 125.5L846.5 125.1L844.6 124.6L842.6 124.2L840.6 123.8L838.7 123.5L836.7 123.1L834.7 122.7L832.7 122.3L830.8 122.0L828.8 121.6L826.8 121.3L824.8 120.9L822.8 120.6L820.9 120.3L818.9 119.9L816.9 119.6L814.9 119.3L812.9 119.0L810.9 118.8L808.9 118.5L806.9 118.2L804.9 118.0L802.9 117.7L800.9 117.5L799.0 117.3L797.0 117.1L795.0 116.9L793.0 116.7L791.0 116.5L789.0 116.3L787.0 116.2L785.0 116.0L783.0 115.9L781.0 115.8L779.0 115.7L777.0 115.6L775.0 115.6L773.0 115.5L771.0 115.5L769.0 115.5L767.0 115.4L765.0 115.5L763.0 115.5L761.0 115.5L759.1 115.6L757.1 115.6L755.1 115.7L753.1 115.8L751.1 116.0L749.1 116.1L747.1 116.3L745.1 116.5L743.1 116.7L741.2 116.9L739.2 117.1L737.2 117.4L735.2 117.6L733.3 117.9L731.3 118.3L729.3 118.6L727.3 119.0L725.4 119.4L723.4 119.8L721.5 120.2L719.5 120.7L717.6 121.2L715.7 121.7L713.8 122.3L711.8 122.9L709.9 123.5L708.1 124.1L706.2 124.8L704.3 125.6L702.5 126.3L700.6 127.1L698.8 128.0L697.0 128.8L695.2 129.8L693.4 130.7L691.7 131.7L689.9 132.8L688.2 133.8L686.5 135.0L684.8 136.2L683.2 137.4L681.7 138.7L680.2 140.1L678.9 141.5L677.6 143.1L676.5 144.7L675.6 146.4L674.8 148.2L674.2 150.1L673.7 152.1L673.4 154.1L673.3 156.1L673.3 158.2L673.5 160.3L673.8 162.3L674.2 164.3L674.8 166.3L675.5 168.1L676.2 170.0L677.1 171.7L678.1 173.4L679.2 175.1L680.3 176.7L681.6 178.3L682.8 179.8L684.1 181.4L685.5 182.8L686.9 184.3L688.3 185.7L689.7 187.2L691.2 188.6" fill="none" stroke="#000" stroke-width="2.1" stroke-linejoin="round" stroke-linecap="round"/><path d="M676.2 170.0L677.1 171.7L678.1 173.4L679.2 175.1L680.3 176.7L681.6 178.3L682.8 179.8L684.1 181.4L685.5 182.8L686.9 184.3L688.3 185.7L689.7 187.2L691.2 188.6L692.6 190.0L694.1 191.3L695.6 192.7L697.1 194.0L698.6 195.4L700.1 196.7L701.6 198.0L703.1 199.3L704.7 200.5L706.2 201.8L707.8 203.0L709.4 204.3L710.9 205.5L712.5 206.7L714.1 207.9L715.7 209.0L717.3 210.2L719.0 211.4L720.6 212.5L722.2 213.6L723.9 214.7L725.5 215.8L727.2 216.9L728.9 218.0L730.6 219.0L732.3 220.1L734.0 221.1L735.7 222.1L737.4 223.1L739.1 224.1L740.8 225.1L742.6 226.1L744.3 227.0L746.1 228.0L747.8 228.9L749.6 229.8L751.3 230.7L753.1 231.7L754.9 232.5L756.7 233.4L758.5 234.3L760.3 235.2L762.1 236.0L763.9 236.9L765.7 237.7L767.5 238.5L769.4 239.3L771.2 240.1L773.1 240.9L774.9 241.7L776.7 242.5L778.6 243.2L780.5 244.0L782.3 244.7L784.2 245.5L786.1 246.2L787.9 246.9L789.8 247.6L791.7 248.3L793.6 249.0L795.5 249.7L797.4 250.4L799.3 251.0L801.2 251.7L803.1 252.4L805.0 253.0L806.9 253.7L808.8 254.3L810.7 254.9L812.6 255.5L814.6 256.1L816.5 256.7L818.4 257.3L820.3 257.9" fill="none" stroke="#000" stroke-width="2.3" stroke-linejoin="round" stroke-linecap="round"/><path d="M797.4 250.4L799.3 251.0L801.2 251.7L803.1 252.4L805.0 253.0L806.9 253.7L808.8 254.3L810.7 254.9L812.6 255.5L814.6 256.1L816.5 256.7L818.4 257.3L820.3 257.9L822.3 258.5L824.2 259.1L826.1 259.7L828.1 260.2L830.0 260.8L832.0 261.3L833.9 261.9L835.8 262.4L837.8 263.0L839.7 263.5L841.7 264.0L843.6 264.5L845.5 265.1L847.5 265.6L849.4 266.1L851.4 266.6L853.3 267.1L855.3 267.6L857.2 268.1L859.2 268.5L861.1 269.0L863.0 269.5L865.0 270.0L866.9 270.4L868.9 270.9L870.8 271.4L872.8 271.8L874.7 272.3L876.6 272.7L878.6 273.2L880.5 273.6L882.4 274.1L884.4 274.5L886.3 274.9L888.2 275.3L890.2 275.8L892.1 276.2L894.1 276.6L896.0 277.0L897.9 277.3L899.9 277.7L901.8 278.1L903.8 278.5L905.7 278.8L907.6 279.2L909.6 279.5L911.5 279.8L913.5 280.1L915.5 280.4L917.4 280.7L919.4 281.0L921.3 281.3L923.3 281.6L925.3 281.8L927.2 282.1L929.2 282.3L931.2 282.5L933.2 282.8L935.1 282.9L937.1 283.1L939.1 283.3L941.1 283.5L943.1 283.6L945.1 283.7L947.1 283.9L949.2 284.0L951.2 284.0L953.2 284.1L955.2 284.2L957.3 284.2L959.3 284.2L961.4 284.3L963.4 284.2L965.5 284.2L967.5 284.2L969.6 284.2L971.6 284.1L973.7 284.0L975.7 284.0L977.7 283.9L979.7 283.8L981.8 283.8L983.7 283.7L985.7 283.6L987.7 283.5L989.6 283.5L991.6 283.4L993.5 283.3L995.4 283.1L997.4 282.7L999.4 282.2L1001.4 281.4L1003.5 280.3L1005.5 279.1L1007.3 277.6L1008.7 276.1L1009.6 274.6L1009.8 273.1L1009.3 271.7L1008.2 270.4L1006.8 269.2L1005.4 268.1L1004.0 266.9L1002.5 265.8L1000.9 264.8L999.3 263.8" fill="none" stroke="#000" stroke-width="3.0" stroke-linejoin="round" stroke-linecap="round"/><path d="M1005.5 279.1L1007.3 277.6L1008.7 276.1L1009.6 274.6L1009.8 273.1L1009.3 271.7L1008.2 270.4L1006.8 269.2L1005.4 268.1L1004.0 266.9L1002.5 265.8L1000.9 264.8L999.3 263.8L997.6 262.8L995.9 261.9L994.1 261.0L992.3 260.1L990.5 259.3L988.7 258.5L986.8 257.7L984.9 256.9L983.0 256.2L981.1 255.4L979.2 254.7L977.3 254.0L975.4 253.3L973.4 252.6L971.5 252.0L969.6 251.3L967.6 250.7L965.7 250.0L963.8 249.4L961.8 248.8L959.9 248.2L958.0 247.6L956.0 247.0L954.1 246.4L952.2 245.8L950.2 245.3L948.3 244.7L946.3 244.2L944.4 243.6L942.5 243.1L940.5 242.6L938.6 242.1L936.6 241.6L934.7 241.1L932.7 240.6L930.8 240.1L928.8 239.7L926.9 239.2L924.9 238.8L923.0 238.3L921.0 237.9L919.1 237.4L917.1 237.0L915.2 236.6L913.2 236.2L911.2 235.8L909.3 235.4L907.3 235.0L905.4 234.6L903.4 234.2L901.5 233.8L899.5 233.4L897.5 233.1L895.6 232.7L893.6 232.3L891.7 232.0L889.7 231.6L887.7 231.3L885.8 230.9L883.8 230.6L881.8 230.3L879.9 229.9L877.9 229.6L875.9 229.3L874.0 228.9L872.0 228.6L870.0 228.3L868.1 228.0L866.1 227.7L864.1 227.4L862.2 227.1L860.2 226.8L858.2 226.4L856.2 226.1L854.3 225.8L852.3 225.5L850.3 225.2L848.4 224.9L846.4 224.7L844.4 224.4L842.4 224.1L840.5 223.8L838.5 223.5L836.5 223.2L834.6 222.9L832.6 222.6L830.6 222.3L828.6 222.0L826.7 221.7L824.7 221.4L822.7 221.1L820.7 220.8L818.8 220.5L816.8 220.2L814.8 219.9L812.8 219.6L810.9 219.3L808.9 218.9L806.9 218.6L804.9 218.3L803.0 218.0L801.0 217.7L799.0 217.3L797.0 217.0L795.1 216.7L793.1 216.4L791.1 216.0L789.1 215.7L787.2 215.3L785.2 215.0L783.2 214.6L781.2 214.3L779.3 213.9L777.3 213.5L775.3 213.2L773.3 212.8L771.4 212.4L769.4 212.0L767.4 211.6L765.5 211.2L763.5 210.8L761.5 210.3L759.6 209.9L757.6 209.5L755.7 209.0L753.7 208.6L751.8 208.1L749.8 207.6L747.9 207.1L745.9 206.6L744.0 206.1L742.1 205.6L740.1 205.1L738.2 204.5L736.3 203.9L734.4 203.4L732.5 202.8L730.6 202.2L728.7 201.6L726.8 200.9L724.9 200.3L723.1 199.6L721.2 198.9L719.3 198.2L717.5 197.5L715.6 196.8L713.8 196.0L712.0 195.3L710.1 194.5L708.3 193.7L706.5 192.9L704.7 192.0L702.8 191.2L701.0 190.4L699.1 189.5L697.3 188.7L695.4 187.8L693.5 187.0L691.6 186.1L689.6 185.3L687.6 184.4L685.7 183.6L684.2 182.5" fill="none" stroke="#000" stroke-width="1.95" stroke-linejoin="round" stroke-linecap="round"/></svg>
</body></html>
